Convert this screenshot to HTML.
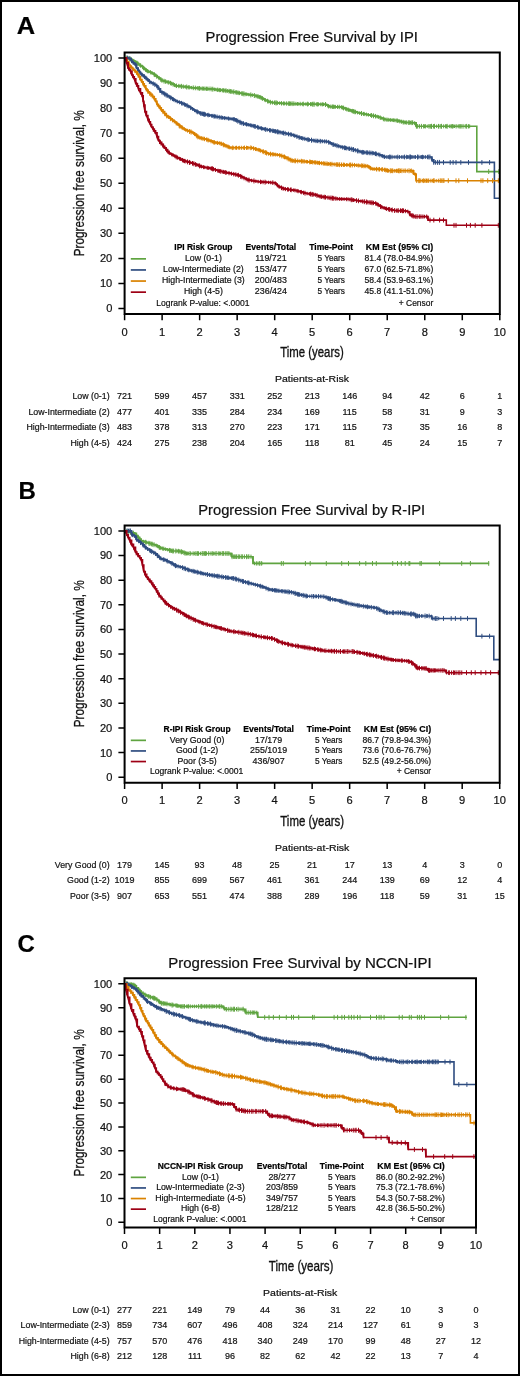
<!DOCTYPE html>
<html><head><meta charset="utf-8"><style>html,body{margin:0;padding:0;background:#fff;width:520px;height:1376px;overflow:hidden}</style></head>
<body>
<svg width="520" height="1376" viewBox="0 0 520 1376" style="display:block;will-change:transform">
<rect x="0" y="0" width="520" height="1376" fill="#fff"/>
<g font-family='"Liberation Sans", sans-serif'>
<text x="16.8" y="33.8" font-size="24" text-anchor="start" font-weight="bold" fill="#000" stroke="#000" stroke-width="0.2" textLength="18.4" lengthAdjust="spacingAndGlyphs">A</text>
<text x="205.5" y="42.1" font-size="13.8" text-anchor="start" font-weight="normal" fill="#111" stroke="#111" stroke-width="0.2" textLength="212.5" lengthAdjust="spacingAndGlyphs">Progression Free Survival by IPI</text>
<text transform="translate(84.1,256.3) rotate(-90)" x="0" y="0" font-size="15.4" fill="#111" stroke="#111" stroke-width="0.3" textLength="146.1" lengthAdjust="spacingAndGlyphs">Progression free survival, %</text>
<text x="112.3" y="312.4" font-size="11.1" text-anchor="end" font-weight="normal" fill="#111" stroke="#111" stroke-width="0.2">0</text>
<text x="112.3" y="287.3" font-size="11.1" text-anchor="end" font-weight="normal" fill="#111" stroke="#111" stroke-width="0.2">10</text>
<text x="112.3" y="262.3" font-size="11.1" text-anchor="end" font-weight="normal" fill="#111" stroke="#111" stroke-width="0.2">20</text>
<text x="112.3" y="237.2" font-size="11.1" text-anchor="end" font-weight="normal" fill="#111" stroke="#111" stroke-width="0.2">30</text>
<text x="112.3" y="212.2" font-size="11.1" text-anchor="end" font-weight="normal" fill="#111" stroke="#111" stroke-width="0.2">40</text>
<text x="112.3" y="187.1" font-size="11.1" text-anchor="end" font-weight="normal" fill="#111" stroke="#111" stroke-width="0.2">50</text>
<text x="112.3" y="162.0" font-size="11.1" text-anchor="end" font-weight="normal" fill="#111" stroke="#111" stroke-width="0.2">60</text>
<text x="112.3" y="137.0" font-size="11.1" text-anchor="end" font-weight="normal" fill="#111" stroke="#111" stroke-width="0.2">70</text>
<text x="112.3" y="111.9" font-size="11.1" text-anchor="end" font-weight="normal" fill="#111" stroke="#111" stroke-width="0.2">80</text>
<text x="112.3" y="86.9" font-size="11.1" text-anchor="end" font-weight="normal" fill="#111" stroke="#111" stroke-width="0.2">90</text>
<text x="112.3" y="61.8" font-size="11.1" text-anchor="end" font-weight="normal" fill="#111" stroke="#111" stroke-width="0.2">100</text>
<text x="124.6" y="335.6" font-size="11.1" text-anchor="middle" font-weight="normal" fill="#111" stroke="#111" stroke-width="0.2">0</text>
<text x="162.1" y="335.6" font-size="11.1" text-anchor="middle" font-weight="normal" fill="#111" stroke="#111" stroke-width="0.2">1</text>
<text x="199.6" y="335.6" font-size="11.1" text-anchor="middle" font-weight="normal" fill="#111" stroke="#111" stroke-width="0.2">2</text>
<text x="237.2" y="335.6" font-size="11.1" text-anchor="middle" font-weight="normal" fill="#111" stroke="#111" stroke-width="0.2">3</text>
<text x="274.7" y="335.6" font-size="11.1" text-anchor="middle" font-weight="normal" fill="#111" stroke="#111" stroke-width="0.2">4</text>
<text x="312.2" y="335.6" font-size="11.1" text-anchor="middle" font-weight="normal" fill="#111" stroke="#111" stroke-width="0.2">5</text>
<text x="349.7" y="335.6" font-size="11.1" text-anchor="middle" font-weight="normal" fill="#111" stroke="#111" stroke-width="0.2">6</text>
<text x="387.2" y="335.6" font-size="11.1" text-anchor="middle" font-weight="normal" fill="#111" stroke="#111" stroke-width="0.2">7</text>
<text x="424.8" y="335.6" font-size="11.1" text-anchor="middle" font-weight="normal" fill="#111" stroke="#111" stroke-width="0.2">8</text>
<text x="462.3" y="335.6" font-size="11.1" text-anchor="middle" font-weight="normal" fill="#111" stroke="#111" stroke-width="0.2">9</text>
<text x="499.8" y="335.6" font-size="11.1" text-anchor="middle" font-weight="normal" fill="#111" stroke="#111" stroke-width="0.2">10</text>
<path d="M118.40,308.50H124.60M118.40,283.44H124.60M118.40,258.38H124.60M118.40,233.32H124.60M118.40,208.26H124.60M118.40,183.20H124.60M118.40,158.14H124.60M118.40,133.08H124.60M118.40,108.02H124.60M118.40,82.96H124.60M118.40,57.90H124.60M124.60,314.00V320.30M162.12,314.00V320.30M199.64,314.00V320.30M237.16,314.00V320.30M274.68,314.00V320.30M312.20,314.00V320.30M349.72,314.00V320.30M387.24,314.00V320.30M424.76,314.00V320.30M462.28,314.00V320.30M499.80,314.00V320.30" stroke="#000" stroke-width="1.5" fill="none"/>
<text x="280.3" y="357.2" font-size="15.2" text-anchor="start" font-weight="normal" fill="#111" stroke="#111" stroke-width="0.35" textLength="63.4" lengthAdjust="spacingAndGlyphs">Time (years)</text>
<text x="275.0" y="382.3" font-size="9.5" text-anchor="start" font-weight="normal" fill="#111" stroke="#111" stroke-width="0.2" textLength="74.0" lengthAdjust="spacingAndGlyphs">Patients-at-Risk</text>
<path d="M124.80,57.80H126.43V58.03H128.07V58.27H129.70V58.50H130.85V59.25H132.00V60.00H133.15V60.60H134.30V61.20H135.45V61.95H136.60V62.70H137.75V63.65H138.90V64.60H140.45V65.55H142.00V66.50H143.15V67.65H144.30V68.80H145.85V70.00H147.40V71.20H148.95V71.75H150.50V72.30H151.65V72.90H152.80V73.50H154.30V74.65H155.80V75.80H157.35V76.95H158.90V78.10H160.45V79.35H162.00V80.60H164.20V81.20H165.65V81.60H167.10V82.00H168.55V82.40H170.00V82.80H171.45V83.53H172.90V84.25H174.35V84.97H175.80V85.70H177.34V85.88H178.88V86.06H180.42V86.24H181.96V86.42H183.50V86.60H185.04V86.80H186.58V87.00H188.12V87.20H189.66V87.40H191.20V87.60H192.80V87.75H194.40V87.90H196.00V88.05H197.60V88.20H199.20V88.35H200.80V88.50H202.40V88.57H204.00V88.63H205.60V88.70H207.20V88.77H208.80V88.83H210.40V88.90H212.00V89.10H213.60V89.30H215.20V89.50H216.80V89.70H218.40V89.90H220.00V90.10H221.53V90.23H223.07V90.37H224.60V90.50H226.20V90.75H227.80V91.00H229.40V91.25H231.00V91.50H232.60V91.75H234.20V92.00H235.80V92.32H237.40V92.63H239.00V92.95H240.60V93.27H242.20V93.58H243.80V93.90H245.42V94.13H247.03V94.37H248.65V94.60H250.27V94.83H251.88V95.07H253.50V95.30H255.18V95.78H256.85V96.25H258.52V96.72H260.20V97.20H261.80V98.17H263.40V99.13H265.00V100.10H266.45V100.67H267.90V101.25H269.35V101.83H270.80V102.40H272.24V102.53H273.68V102.65H275.11V102.78H276.55V102.90H277.99V103.03H279.43V103.15H280.86V103.28H282.30V103.40H283.78V103.45H285.25V103.49H286.73V103.54H288.21V103.58H289.68V103.63H291.16V103.68H292.64V103.72H294.12V103.77H295.59V103.82H297.07V103.86H298.55V103.91H300.02V103.95H301.50V104.00H302.99V104.03H304.49V104.05H305.98V104.08H307.48V104.10H308.97V104.12H310.46V104.15H311.96V104.17H313.45V104.20H314.94V104.23H316.44V104.25H317.93V104.28H319.42V104.30H320.92V104.33H322.41V104.35H323.91V104.38H325.40V104.40H326.67V105.13H327.93V105.87H329.20V106.60H330.65V106.65H332.10V106.70H333.55V106.75H335.00V106.80H336.45V106.85H337.90V106.90H339.35V106.95H340.80V107.00H342.34V107.58H343.88V108.16H345.42V108.74H346.96V109.32H348.50V109.90H350.10V110.38H351.70V110.87H353.30V111.35H354.90V111.83H356.50V112.32H358.10V112.80H359.70V113.12H361.30V113.43H362.90V113.75H364.50V114.07H366.10V114.38H367.70V114.70H369.30V115.02H370.90V115.33H372.50V115.65H374.10V115.97H375.70V116.28H377.30V116.60H378.84V117.18H380.38V117.76H381.92V118.34H383.46V118.92H385.00V119.50H386.44V119.62H387.88V119.75H389.31V119.88H390.75V120.00H392.19V120.12H393.62V120.25H395.06V120.38H396.50V120.50H398.04V120.88H399.58V121.26H401.12V121.64H402.66V122.02H404.20V122.40H405.69V122.46H407.17V122.51H408.66V122.57H410.14V122.63H411.63V122.69H413.11V122.74H414.60V122.80H416.20V126.30H476.80V171.60H499.20" fill="none" stroke="#5fa440" stroke-width="1.6" stroke-linejoin="miter"/>
<path d="M124.80,57.80L129.70,58.50M129.70,58.50L132.00,60.00M132.00,60.00L134.30,61.20M134.30,61.20L136.60,62.70M136.60,62.70L138.90,64.60M138.90,64.60L142.00,66.50M142.00,66.50L144.30,68.80M144.30,68.80L147.40,71.20M147.40,71.20L150.50,72.30M150.50,72.30L152.80,73.50M152.80,73.50L155.80,75.80M155.80,75.80L158.90,78.10M158.90,78.10L162.00,80.60M162.00,80.60L164.20,81.20M164.20,81.20L170.00,82.80M170.00,82.80L175.80,85.70M175.80,85.70L183.50,86.60M183.50,86.60L191.20,87.60M191.20,87.60L200.80,88.50M200.80,88.50L210.40,88.90M210.40,88.90L220.00,90.10M220.00,90.10L224.60,90.50M224.60,90.50L234.20,92.00M234.20,92.00L243.80,93.90M243.80,93.90L253.50,95.30M253.50,95.30L260.20,97.20M260.20,97.20L265.00,100.10M265.00,100.10L270.80,102.40M270.80,102.40L282.30,103.40M282.30,103.40L301.50,104.00M301.50,104.00L325.40,104.40M325.40,104.40L329.20,106.60M329.20,106.60L340.80,107.00M340.80,107.00L348.50,109.90M348.50,109.90L358.10,112.80M358.10,112.80L367.70,114.70M367.70,114.70L377.30,116.60M377.30,116.60L385.00,119.50M385.00,119.50L396.50,120.50M396.50,120.50L404.20,122.40M404.20,122.40L414.60,122.80M414.60,122.80L416.20,126.30" fill="none" stroke="#5fa440" stroke-width="1.6" stroke-linecap="round"/>
<path d="M488.70,169.20v4.80M494.40,169.20v4.80M498.80,169.20v4.80M126.19,55.61v4.78M128.03,56.37v3.79M129.42,56.40v4.12M131.08,57.06v4.69M131.80,58.16v3.41M133.76,58.87v4.09M135.60,60.37v3.36M136.91,60.67v4.57M137.85,61.26v4.95M139.93,63.52v3.41M140.53,63.46v4.27M142.67,65.17v4.00M143.59,66.06v4.07M144.20,66.83v3.73M145.50,67.63v4.19M146.45,68.59v3.75M147.38,69.12v4.13M148.42,69.86v3.40M150.39,70.11v4.29M152.03,71.26v3.67M154.26,72.21v4.80M155.02,73.24v3.92M156.79,74.26v4.55M158.92,76.09v4.07M160.88,77.45v4.49M161.95,78.39v4.35M163.99,78.75v4.78M165.40,79.36v4.35M166.02,79.82v3.77M167.92,80.20v4.06M168.77,80.32v4.28M170.51,80.81v4.49M171.70,81.60v4.10M173.11,82.02v4.67M174.55,83.06v4.02M175.93,84.01v3.41M176.56,83.52v4.54M178.78,83.87v4.36M180.00,84.37v3.65M181.40,83.85v5.01M183.26,84.44v4.27M185.26,84.95v3.75M186.68,84.53v4.96M188.21,85.15v4.13M189.23,85.20v4.28M191.39,85.93v3.37M193.27,85.42v4.74M195.32,85.68v4.60M197.24,86.05v4.23M198.74,86.27v4.08M199.40,85.96v4.82M200.91,86.66v3.70M202.32,86.48v4.17M203.48,86.64v3.94M204.95,86.47v4.41M206.54,86.67v4.13M207.14,86.89v3.75M208.00,86.63v4.34M210.01,86.53v4.70M211.91,86.72v4.73M212.89,86.82v4.77M214.59,87.67v3.50M215.17,87.80v3.38M217.00,87.84v3.78M217.75,87.61v4.41M218.89,88.22v3.48M219.71,87.94v4.25M220.56,88.24v3.82M222.31,88.24v4.12M223.41,88.32v4.16M224.01,88.44v4.01M225.28,88.77v3.68M226.02,88.29v4.87M227.44,89.09v3.71M229.02,88.82v4.73M229.61,89.59v3.39M230.42,89.13v4.57M231.25,89.27v4.54M232.95,89.67v4.28M233.88,89.45v5.00M235.78,90.20v4.23M236.71,90.27v4.45M237.94,90.58v4.33M239.04,90.75v4.42M239.69,91.16v3.86M241.88,91.10v4.83M242.95,91.33v4.80M244.04,91.47v4.94M245.85,92.17v4.06M246.83,92.65v3.37M248.87,92.92v3.42M250.80,92.42v4.98M252.32,93.31v3.65M254.34,93.04v5.00M256.08,93.92v4.21M257.28,94.40v3.94M258.18,94.38v4.49M259.47,95.15v3.69M260.20,94.96v4.48M261.26,95.74v4.20M262.37,96.10v4.82M264.44,98.07v3.39M265.34,98.28v3.91M267.56,98.78v4.67M268.69,99.70v3.72M270.38,99.85v4.77M272.50,100.58v3.94M274.55,100.47v4.51M275.92,100.34v5.02M276.88,100.64v4.58M277.58,101.17v3.65M279.67,101.31v3.72M281.50,101.15v4.37M283.48,101.45v3.98M284.61,101.55v3.85M286.63,101.35v4.37M288.79,101.18v4.85M289.58,101.48v4.29M290.31,101.94v3.43M290.99,101.26v4.82M292.88,101.35v4.75M294.01,101.57v4.39M295.88,101.83v4.00M297.40,102.00v3.74M298.10,101.99v3.81M300.16,101.80v4.31M302.27,101.95v4.13M303.30,101.69v4.68M305.25,102.37v3.38M306.93,102.33v3.51M307.69,101.68v4.85M308.31,102.23v3.76M310.53,102.12v4.07M311.29,102.34v3.64M312.25,101.88v4.61M312.99,101.75v4.89M314.18,101.72v4.99M316.27,102.32v3.85M317.26,102.18v4.16M317.98,102.05v4.46M318.61,102.60v3.38M320.82,102.40v3.86M322.38,102.29v4.12M323.47,102.63v3.47M325.56,102.00v4.99M327.75,103.99v3.55M328.68,104.10v4.40M330.88,104.52v4.27M332.60,104.48v4.47M333.59,104.62v4.27M334.67,104.90v3.77M335.37,104.90v3.83M337.58,104.83v4.11M339.23,104.73v4.44M341.37,105.21v4.02M342.45,105.67v3.91M343.54,105.64v4.78M345.60,106.87v3.87M346.72,107.09v4.27M348.26,107.63v4.36M349.23,108.42v3.39M350.20,108.67v3.48M351.68,109.12v3.48M352.37,108.86v4.43M353.42,109.04v4.69M354.81,109.40v4.81M355.63,109.95v4.20M357.52,110.88v3.49M359.68,111.29v3.65M361.54,110.97v5.01M363.48,111.92v3.90M364.22,111.90v4.22M366.33,112.50v3.85M368.39,113.04v3.60M370.48,113.54v3.41M371.57,113.03v4.88M373.48,113.40v4.88M375.45,113.93v4.61M377.17,114.74v3.66M378.46,115.22v3.63M380.22,115.46v4.48M381.20,116.33v3.47M383.38,116.53v4.72M384.86,117.31v4.27M386.85,117.60v4.12M388.08,117.80v3.93M389.07,118.15v3.40M390.72,117.97v4.06M392.23,118.40v3.46M393.39,118.43v3.59M394.16,118.40v3.80M396.11,118.45v4.03M397.35,118.51v4.39M398.30,119.26v3.37M399.75,119.20v4.20M401.40,119.66v4.10M403.11,119.84v4.59M404.07,120.27v4.19M405.44,120.58v3.74M406.69,120.35v4.30M408.77,120.13v4.90M409.80,120.39v4.45M410.44,120.90v3.48M411.86,120.28v4.83M412.68,120.40v4.65M414.73,121.14v3.88M416.45,123.91v4.79M417.64,124.03v4.54M419.43,124.12v4.36M421.43,123.87v4.87M423.60,124.14v4.32M424.46,124.41v3.78M425.39,124.14v4.32M427.22,124.58v3.45M428.92,124.02v4.56M430.07,124.19v4.23M430.91,124.01v4.59M431.53,123.80v5.01M433.45,124.09v4.42M434.46,123.85v4.89M436.63,124.50v3.59M438.50,123.91v4.77M440.16,124.03v4.54M441.47,123.84v4.91M443.66,124.30v4.00M445.57,124.26v4.09M446.41,124.35v3.91M447.18,123.86v4.89M449.35,124.52v3.56M450.92,124.28v4.05M451.68,124.37v3.86M452.66,123.99v4.62M453.22,124.46v3.68M454.52,124.60v3.40M456.14,124.11v4.38M458.10,124.45v3.71M459.14,124.16v4.27M460.16,124.13v4.34M461.14,124.05v4.51M463.03,123.94v4.72M465.22,124.16v4.28M466.61,123.90v4.80M468.46,124.14v4.32M469.66,124.38v3.84" fill="none" stroke="#5fa440" stroke-width="1"/>
<path d="M124.80,57.80H126.50V58.00H128.20V58.20H129.35V58.50H130.50V58.80H131.20V60.40H132.00V61.90H133.15V62.70H134.30V63.50H135.80V65.00H136.60V68.10H138.20V70.40H139.35V71.95H140.50V73.50H142.00V75.00H143.15V75.75H144.30V76.50H145.45V77.65H146.60V78.80H147.75V80.00H148.90V81.20H150.05V81.95H151.20V82.70H152.75V83.45H154.30V84.20H155.45V85.00H156.60V85.80H157.75V87.30H158.90V88.80H160.50V91.90H162.00V92.40H163.53V93.35H165.05V94.30H166.57V95.25H168.10V96.20H169.64V97.16H171.18V98.12H172.72V99.08H174.26V100.04H175.80V101.00H177.34V101.58H178.88V102.16H180.42V102.74H181.96V103.32H183.50V103.90H184.93V104.62H186.35V105.35H187.77V106.08H189.20V106.80H190.65V107.78H192.10V108.75H193.55V109.72H195.00V110.70H196.45V111.40H197.90V112.10H199.35V112.80H200.80V113.50H202.40V113.83H204.00V114.17H205.60V114.50H207.20V114.83H208.80V115.17H210.40V115.50H212.00V115.82H213.60V116.13H215.20V116.45H216.80V116.77H218.40V117.08H220.00V117.40H221.58V117.61H223.16V117.82H224.73V118.03H226.31V118.24H227.89V118.46H229.47V118.67H231.04V118.88H232.62V119.09H234.20V119.30H235.74V120.08H237.28V120.86H238.82V121.64H240.36V122.42H241.90V123.20H243.35V123.55H244.80V123.90H246.25V124.25H247.70V124.60H249.15V124.95H250.60V125.30H252.05V125.65H253.50V126.00H255.10V126.48H256.70V126.97H258.30V127.45H259.90V127.93H261.50V128.42H263.10V128.90H264.70V129.22H266.30V129.53H267.90V129.85H269.50V130.17H271.10V130.48H272.70V130.80H274.30V131.13H275.90V131.47H277.50V131.80H279.10V132.13H280.70V132.47H282.30V132.80H283.90V133.12H285.50V133.43H287.10V133.75H288.70V134.07H290.30V134.38H291.90V134.70H293.44V135.28H294.98V135.86H296.52V136.44H298.06V137.02H299.60V137.60H301.14V137.98H302.68V138.36H304.22V138.74H305.76V139.12H307.30V139.50H308.84V139.76H310.38V140.02H311.92V140.28H313.46V140.54H315.00V140.80H316.54V140.90H318.07V141.00H319.61V141.10H321.15V141.20H322.69V141.30H324.23V141.40H325.76V141.50H327.30V141.60H328.75V142.32H330.20V143.05H331.65V143.78H333.10V144.50H334.70V144.98H336.30V145.47H337.90V145.95H339.50V146.43H341.10V146.92H342.70V147.40H344.30V147.72H345.90V148.03H347.50V148.35H349.10V148.67H350.70V148.98H352.30V149.30H353.90V149.78H355.50V150.27H357.10V150.75H358.70V151.23H360.30V151.72H361.90V152.20H363.35V152.32H364.80V152.45H366.25V152.57H367.70V152.70H369.15V152.82H370.60V152.95H372.05V153.07H373.50V153.20H374.93V153.57H376.35V153.95H377.77V154.32H379.20V154.70H380.65V155.27H382.10V155.85H383.55V156.43H385.00V157.00H431.00H432.00V159.90H433.80V162.40H494.40V198.30H499.20" fill="none" stroke="#2f4d80" stroke-width="1.6" stroke-linejoin="miter"/>
<path d="M124.80,57.80L128.20,58.20M128.20,58.20L130.50,58.80M130.50,58.80L131.20,60.40M131.20,60.40L132.00,61.90M132.00,61.90L134.30,63.50M134.30,63.50L135.80,65.00M135.80,65.00L136.60,68.10M136.60,68.10L138.20,70.40M138.20,70.40L140.50,73.50M140.50,73.50L142.00,75.00M142.00,75.00L144.30,76.50M144.30,76.50L146.60,78.80M146.60,78.80L148.90,81.20M148.90,81.20L151.20,82.70M151.20,82.70L154.30,84.20M154.30,84.20L156.60,85.80M156.60,85.80L158.90,88.80M158.90,88.80L160.50,91.90M160.50,91.90L162.00,92.40M162.00,92.40L168.10,96.20M168.10,96.20L175.80,101.00M175.80,101.00L183.50,103.90M183.50,103.90L189.20,106.80M189.20,106.80L195.00,110.70M195.00,110.70L200.80,113.50M200.80,113.50L210.40,115.50M210.40,115.50L220.00,117.40M220.00,117.40L234.20,119.30M234.20,119.30L241.90,123.20M241.90,123.20L253.50,126.00M253.50,126.00L263.10,128.90M263.10,128.90L272.70,130.80M272.70,130.80L282.30,132.80M282.30,132.80L291.90,134.70M291.90,134.70L299.60,137.60M299.60,137.60L307.30,139.50M307.30,139.50L315.00,140.80M315.00,140.80L327.30,141.60M327.30,141.60L333.10,144.50M333.10,144.50L342.70,147.40M342.70,147.40L352.30,149.30M352.30,149.30L361.90,152.20M361.90,152.20L373.50,153.20M373.50,153.20L379.20,154.70M379.20,154.70L385.00,157.00M431.00,157.00L432.00,159.90M432.00,159.90L433.80,162.40" fill="none" stroke="#2f4d80" stroke-width="1.6" stroke-linecap="round"/>
<path d="M443.50,160.00v4.80M450.20,160.00v4.80M453.10,160.00v4.80M456.00,160.00v4.80M460.80,160.00v4.80M468.50,160.00v4.80M481.90,160.00v4.80M489.60,160.00v4.80M127.34,55.62v4.95M127.99,56.42v3.50M129.96,56.36v4.60M131.64,59.29v3.88M133.22,60.56v4.38M134.76,62.14v3.63M136.04,63.92v4.02M137.81,67.33v5.03M139.97,70.65v4.27M141.28,72.37v3.81M141.90,73.19v3.41M143.24,73.86v3.90M144.44,74.21v4.86M145.88,75.93v4.30M146.84,77.35v3.40M147.94,78.41v3.59M149.36,78.98v5.04M151.05,80.77v3.67M153.11,81.28v4.70M154.91,82.18v4.88M156.75,83.65v4.69M157.90,85.00v5.01M160.08,89.27v3.63M161.91,90.09v4.56M163.24,91.05v4.25M164.63,91.58v4.91M166.03,92.53v4.76M167.18,93.21v4.84M169.25,94.85v4.13M170.77,95.41v4.91M172.54,96.88v4.18M173.48,97.60v3.91M175.21,98.81v3.64M177.30,99.66v3.81M179.39,100.41v3.88M181.56,100.89v4.55M182.96,101.58v4.23M184.62,102.29v4.35M185.70,103.17v3.71M187.12,103.28v4.93M188.73,104.82v3.49M190.67,105.50v4.58M192.75,107.35v3.68M194.56,108.68v3.46M196.22,109.38v3.82M197.16,109.33v4.83M197.90,109.98v4.24M199.89,111.18v3.77M200.81,111.08v4.84M202.08,111.48v4.56M202.69,111.91v3.97M203.54,111.83v4.49M204.24,111.73v4.96M204.84,112.05v4.59M205.44,112.57v3.79M207.36,113.06v3.62M208.23,112.79v4.52M209.44,113.58v3.43M211.66,113.94v3.61M212.28,113.90v3.94M213.88,113.88v4.61M214.63,114.37v3.93M215.24,114.40v4.11M217.09,114.52v4.60M219.16,114.92v4.63M221.17,115.28v4.54M222.52,115.87v3.74M224.19,116.02v3.89M224.93,116.00v4.11M226.96,116.54v3.57M228.50,116.53v4.02M229.92,116.93v3.60M232.10,117.12v3.80M233.67,117.20v4.07M234.26,117.18v4.30M235.06,118.01v3.46M235.68,118.23v3.63M236.40,118.20v4.43M237.81,118.62v5.01M239.94,119.69v5.03M240.89,120.64v4.11M241.87,121.01v4.35M243.48,121.23v4.70M245.23,122.11v3.79M246.50,122.19v4.24M247.07,122.74v3.42M248.32,122.98v3.55M250.09,123.30v3.76M250.82,123.52v3.67M251.77,123.72v3.73M253.21,123.86v4.14M254.29,124.02v4.44M255.20,124.07v4.88M257.38,124.88v4.58M258.67,125.45v4.22M260.21,126.30v3.45M261.47,126.29v4.24M262.33,126.91v3.52M264.24,127.14v3.98M265.67,126.96v4.91M267.26,127.80v3.85M269.47,128.17v3.99M270.06,128.02v4.51M270.79,128.49v3.87M272.77,128.57v4.49M273.35,128.88v4.12M274.60,129.11v4.18M275.51,129.21v4.35M276.20,129.61v3.84M277.38,129.31v4.93M278.07,129.60v4.63M278.95,129.94v4.32M280.17,130.29v4.14M282.00,130.73v4.02M282.76,131.11v3.56M283.46,130.64v4.79M285.10,130.87v4.97M286.82,131.99v3.40M288.49,131.69v4.67M290.26,132.28v4.20M291.42,132.54v4.13M293.32,133.33v3.81M294.77,133.70v4.16M296.93,134.24v4.71M299.06,135.01v4.76M300.12,135.85v3.75M301.50,136.17v3.80M302.78,136.13v4.50M304.88,136.73v4.34M306.81,137.62v3.52M307.97,137.10v5.04M308.78,137.72v4.06M309.45,138.11v3.50M311.51,137.70v5.02M313.16,138.70v3.58M314.22,138.79v3.75M315.91,138.61v4.50M317.21,138.82v4.24M317.95,138.86v4.27M320.11,138.82v4.63M320.83,139.07v4.23M322.59,139.40v3.79M324.66,139.36v4.13M326.40,139.52v4.04M328.63,139.93v4.68M330.15,141.23v3.60M331.45,141.97v3.41M333.01,142.04v4.84M333.88,142.63v4.22M335.25,143.13v4.04M337.00,143.21v4.93M338.75,144.13v4.15M340.92,144.91v3.92M342.74,145.17v4.47M344.57,145.38v4.79M345.51,145.75v4.40M346.75,145.96v4.48M348.95,146.42v4.43M349.53,146.68v4.14M351.29,146.68v4.84M352.94,147.13v4.73M353.53,147.20v4.94M355.31,148.02v4.38M357.39,148.42v4.85M358.12,148.69v4.73M359.97,149.77v3.70M361.78,149.99v4.34M362.66,149.91v4.71M363.45,150.14v4.39M364.74,150.55v3.79M366.26,150.50v4.14M367.16,150.16v4.98M367.84,151.03v3.37M369.22,150.45v4.77M370.88,150.66v4.63M372.26,150.85v4.49M373.38,151.29v3.81M374.79,151.84v3.41M375.48,151.41v4.63M376.33,151.64v4.62M378.21,152.42v4.04M379.90,152.64v4.68M381.92,153.98v3.59M382.75,154.11v4.00M384.09,154.71v3.86M384.67,154.72v4.30M386.85,155.01v3.98M388.31,155.00v4.00M389.62,154.59v4.82M390.70,154.77v4.45M392.07,154.87v4.26M394.17,155.26v3.49M396.11,155.06v3.87M397.76,154.65v4.70M399.41,154.99v4.02M401.39,155.24v3.52M403.01,154.99v4.02M404.46,154.61v4.79M406.36,154.79v4.42M407.44,155.12v3.75M408.77,155.13v3.75M409.80,154.52v4.97M410.54,154.63v4.74M411.74,155.01v3.97M412.84,155.25v3.49M414.16,155.18v3.64M415.47,155.07v3.85M417.53,154.55v4.91M418.83,154.78v4.43M420.95,155.05v3.91M421.68,155.12v3.76M422.56,154.75v4.50M423.75,155.02v3.96M425.64,155.12v3.75M427.56,154.79v4.42M428.79,154.63v4.74M429.93,154.58v4.84M432.04,157.86v4.20M433.76,159.87v4.95M435.57,160.09v4.62M437.59,159.93v4.93M439.42,159.90v5.00" fill="none" stroke="#2f4d80" stroke-width="1"/>
<path d="M124.80,57.80H126.10V59.85H127.40V61.90H128.90V65.00H130.05V66.15H131.20V67.30H132.35V68.45H133.50V69.60H134.65V70.75H135.80V71.90H137.40V74.20H138.90V76.50H140.50V79.60H142.00V81.90H143.15V83.85H144.30V85.80H145.80V88.80H147.00V90.35H148.20V91.90H149.35V93.05H150.50V94.20H151.65V95.35H152.80V96.50H154.30V98.80H155.80V101.20H157.00V104.20H158.43V106.03H159.87V107.87H161.30V109.70H162.93V111.63H164.57V113.57H166.20V115.50H167.72V116.64H169.24V117.78H170.76V118.92H172.28V120.06H173.80V121.20H175.25V122.40H176.70V123.60H178.15V124.80H179.60V126.00H181.05V126.97H182.50V127.95H183.95V128.93H185.40V129.90H186.94V130.48H188.48V131.06H190.02V131.64H191.56V132.22H193.10V132.80H194.53V134.00H195.95V135.20H197.38V136.40H198.80V137.60H200.34V137.98H201.88V138.36H203.42V138.74H204.96V139.12H206.50V139.50H208.04V140.08H209.58V140.66H211.12V141.24H212.66V141.82H214.20V142.40H215.65V142.62H217.10V142.85H218.55V143.08H220.00V143.30H221.53V143.97H223.07V144.63H224.60V145.30H226.05V145.93H227.50V146.55H228.95V147.18H230.40V147.80H251.50H253.04V148.26H254.58V148.72H256.12V149.18H257.66V149.64H259.20V150.10H260.80V150.73H262.40V151.37H264.00V152.00H265.60V152.63H267.20V153.27H268.80V153.90H270.42V154.07H272.03V154.23H273.65V154.40H275.27V154.57H276.88V154.73H278.50V154.90H279.93V155.38H281.35V155.85H282.77V156.33H284.20V156.80H285.74V157.58H287.28V158.36H288.82V159.14H290.36V159.92H291.90V160.70H293.50V160.78H295.10V160.87H296.70V160.95H298.30V161.03H299.90V161.12H301.50V161.20H303.00V161.33H304.50V161.47H306.00V161.60H307.50V161.73H309.00V161.87H310.50V162.00H312.00V162.13H313.50V162.27H315.00V162.40H316.49V162.59H317.97V162.77H319.46V162.96H320.94V163.14H322.43V163.33H323.91V163.51H325.40V163.70H326.89V163.81H328.38V163.92H329.87V164.03H331.36V164.14H332.84V164.26H334.33V164.37H335.82V164.48H337.31V164.59H338.80V164.70H340.34V164.74H341.88V164.78H343.42V164.82H344.96V164.86H346.50V164.90H348.04V164.94H349.58V164.98H351.12V165.02H352.66V165.06H354.20V165.10H355.70V165.22H357.20V165.34H358.70V165.47H360.20V165.59H361.70V165.71H363.20V165.83H364.70V165.96H366.20V166.08H367.70V166.20H368.97V167.10H370.23V168.00H371.50V168.90H372.95V168.97H374.40V169.05H375.85V169.12H377.30V169.20H378.75V169.28H380.20V169.35H381.65V169.43H383.10V169.50H384.53V169.82H385.95V170.15H387.38V170.48H388.80V170.80H412.70H413.70V173.90H415.60V174.30H416.20V180.70H499.20" fill="none" stroke="#da8200" stroke-width="1.6" stroke-linejoin="miter"/>
<path d="M124.80,57.80L127.40,61.90M127.40,61.90L128.90,65.00M128.90,65.00L131.20,67.30M131.20,67.30L133.50,69.60M133.50,69.60L135.80,71.90M135.80,71.90L137.40,74.20M137.40,74.20L138.90,76.50M138.90,76.50L140.50,79.60M140.50,79.60L142.00,81.90M142.00,81.90L144.30,85.80M144.30,85.80L145.80,88.80M145.80,88.80L148.20,91.90M148.20,91.90L150.50,94.20M150.50,94.20L152.80,96.50M152.80,96.50L154.30,98.80M154.30,98.80L155.80,101.20M155.80,101.20L157.00,104.20M157.00,104.20L161.30,109.70M161.30,109.70L166.20,115.50M166.20,115.50L173.80,121.20M173.80,121.20L179.60,126.00M179.60,126.00L185.40,129.90M185.40,129.90L193.10,132.80M193.10,132.80L198.80,137.60M198.80,137.60L206.50,139.50M206.50,139.50L214.20,142.40M214.20,142.40L220.00,143.30M220.00,143.30L224.60,145.30M224.60,145.30L230.40,147.80M251.50,147.80L259.20,150.10M259.20,150.10L268.80,153.90M268.80,153.90L278.50,154.90M278.50,154.90L284.20,156.80M284.20,156.80L291.90,160.70M291.90,160.70L301.50,161.20M301.50,161.20L315.00,162.40M315.00,162.40L325.40,163.70M325.40,163.70L338.80,164.70M338.80,164.70L354.20,165.10M354.20,165.10L367.70,166.20M367.70,166.20L371.50,168.90M371.50,168.90L383.10,169.50M383.10,169.50L388.80,170.80M412.70,170.80L413.70,173.90M413.70,173.90L415.60,174.30M415.60,174.30L416.20,180.70" fill="none" stroke="#da8200" stroke-width="1.6" stroke-linecap="round"/>
<path d="M448.30,178.30v4.80M456.00,178.30v4.80M458.80,178.30v4.80M467.50,178.30v4.80M481.00,178.30v4.80M482.90,178.30v4.80M487.70,178.30v4.80M492.50,178.30v4.80M498.30,178.30v4.80M126.33,58.08v4.27M127.51,59.95v4.37M129.13,63.49v3.47M129.71,63.42v4.77M130.70,64.93v3.75M132.94,66.96v4.15M134.90,68.92v4.16M136.54,71.15v3.61M138.16,72.96v4.82M139.60,75.56v4.61M141.29,79.08v3.47M143.12,81.63v4.35M144.19,83.91v3.41M146.20,87.24v4.15M147.97,89.19v4.84M149.73,90.98v4.91M150.95,92.30v4.71M152.26,93.49v4.93M154.30,97.03v3.52M155.09,98.19v3.72M157.27,102.50v4.09M158.88,104.67v3.87M160.29,106.41v4.01M161.44,107.70v4.34M162.98,109.25v4.88M164.69,111.25v4.92M166.69,113.35v5.02M168.38,115.31v3.63M170.38,116.15v4.98M172.46,118.04v4.32M174.22,119.69v3.71M176.18,121.01v4.32M177.22,122.29v3.47M179.21,123.17v5.02M179.92,123.86v4.71M181.17,125.25v3.61M182.22,125.44v4.65M184.25,127.41v3.43M185.84,128.35v3.44M187.61,128.77v3.92M189.65,129.00v5.01M191.06,129.51v5.04M192.14,130.69v3.49M193.71,131.60v3.41M194.60,132.04v4.05M196.18,133.59v3.62M196.81,133.52v4.82M197.90,134.36v4.97M199.97,135.89v3.99M201.30,136.10v4.23M202.94,136.44v4.36M204.44,136.79v4.40M206.58,137.43v4.21M207.87,137.73v4.57M208.83,138.44v3.87M211.03,139.09v4.24M212.51,140.07v3.38M213.77,140.07v4.33M214.36,140.23v4.39M215.98,140.95v3.46M217.60,140.86v4.14M219.30,141.22v3.95M221.05,141.46v4.60M221.64,142.28v3.46M223.34,142.26v4.98M224.32,143.12v4.13M225.88,143.90v3.90M227.05,144.41v3.89M228.23,144.68v4.36M229.29,145.33v3.99M231.15,146.10v3.41M232.67,145.50v4.60M233.75,145.93v3.73M235.66,145.92v3.76M236.53,145.75v4.09M238.27,146.03v3.53M239.37,145.84v3.92M241.33,145.75v4.10M243.32,145.98v3.64M244.45,145.57v4.45M246.50,145.74v4.12M247.44,146.02v3.56M248.88,145.96v3.68M250.80,145.42v4.77M251.67,145.94v3.83M253.58,146.20v4.44M255.50,147.02v3.94M256.28,147.30v3.85M258.17,147.88v3.82M259.31,148.11v4.06M260.58,148.62v4.05M262.68,149.67v3.62M263.25,149.23v4.94M265.29,150.00v5.02M266.58,150.54v4.96M268.70,151.99v3.73M270.51,151.69v4.77M272.18,152.13v4.23M273.23,152.39v3.93M274.17,152.72v3.47M275.72,152.69v3.84M277.64,153.09v3.44M279.72,153.04v4.53M281.83,153.58v4.87M283.90,154.54v4.33M284.49,154.64v4.61M285.33,155.44v3.86M287.01,156.10v4.24M288.26,156.39v4.94M289.85,157.70v3.93M290.84,157.76v4.81M292.20,158.38v4.67M293.35,158.93v3.69M294.81,158.49v4.73M295.66,158.55v4.69M297.76,158.65v4.71M299.71,159.42v3.37M301.32,158.79v4.81M301.97,159.33v3.82M302.98,159.21v4.25M304.25,159.37v4.15M306.11,159.93v3.36M306.77,159.88v3.57M307.53,160.00v3.47M309.73,159.53v4.80M310.44,159.89v4.20M311.53,160.15v3.89M312.68,159.97v4.45M314.22,160.35v3.97M315.10,160.46v3.91M315.87,160.36v4.29M317.64,160.73v4.00M318.33,160.99v3.66M319.52,160.78v4.38M321.39,161.20v4.00M323.30,161.23v4.41M324.58,161.60v3.99M325.98,161.47v4.54M327.24,161.57v4.53M328.58,162.05v3.77M330.04,161.78v4.53M330.72,162.06v4.07M331.99,161.77v4.84M334.13,162.36v3.99M336.19,162.16v4.69M337.19,162.51v4.14M337.96,162.27v4.73M339.63,162.30v4.85M341.53,162.53v4.48M343.32,162.66v4.31M344.05,162.66v4.35M344.62,163.05v3.60M346.48,163.18v3.43M347.19,163.15v3.53M349.23,163.14v3.66M349.83,162.60v4.77M350.60,162.62v4.78M352.29,162.67v4.76M354.45,162.95v4.33M356.35,163.56v3.42M358.20,163.32v4.22M359.96,163.80v3.54M361.78,163.25v4.93M362.44,163.82v3.90M363.95,163.52v4.75M364.92,164.14v3.66M365.90,163.86v4.39M367.72,164.21v4.02M368.90,165.04v4.03M370.05,165.84v4.06M370.75,166.27v4.20M372.94,166.95v4.05M374.76,167.25v3.63M376.48,166.84v4.63M378.17,167.13v4.23M379.54,167.10v4.44M381.61,167.62v3.61M382.33,167.15v4.62M384.43,167.69v4.23M385.74,167.82v4.57M386.61,168.40v3.81M387.50,168.33v4.34M388.59,168.88v3.75M390.31,168.32v4.96M391.37,168.53v4.54M392.63,168.40v4.79M394.17,168.90v3.81M395.09,169.10v3.40M396.46,168.80v4.00M397.31,168.82v3.97M398.41,168.47v4.66M399.21,168.29v5.03M400.58,168.62v4.37M401.92,168.42v4.76M403.86,168.65v4.30M405.23,168.51v4.57M407.23,168.78v4.03M409.02,168.31v4.97M410.37,168.93v3.75M411.32,168.52v4.57M413.02,169.30v4.97M415.01,172.29v3.77M415.89,175.50v3.79M416.76,178.43v4.54M418.77,178.26v4.87M419.76,178.29v4.81M420.84,178.66v4.07M422.63,178.95v3.50M423.34,178.32v4.76M424.39,178.72v3.96M425.93,178.45v4.49M426.50,178.74v3.92M427.79,178.61v4.18M428.71,178.53v4.34M430.87,178.69v4.02M432.34,178.92v3.56M433.37,178.46v4.48M434.12,178.27v4.85M436.20,178.94v3.52M438.34,178.71v3.99M440.20,178.38v4.63M441.26,178.45v4.50M442.92,178.34v4.71M443.92,178.39v4.63" fill="none" stroke="#da8200" stroke-width="1"/>
<path d="M124.80,57.80H126.60V62.70H128.20V68.10H129.35V69.65H130.50V71.20H132.00V75.00H133.15V76.90H134.30V78.80H135.80V83.50H137.40V85.80H138.50V88.80H140.50V92.70H142.40V95.80H143.20V101.20H143.90V105.00H145.00V111.60H146.45V115.45H147.90V119.30H149.17V121.87H150.43V124.43H151.70V127.00H153.00V128.93H154.30V130.87H155.60V132.80H157.05V136.65H158.50V140.50H160.10V142.40H161.70V144.30H163.30V146.20H164.73V147.90H166.15V149.60H167.57V151.30H169.00V153.00H170.36V153.76H171.72V154.52H173.08V155.28H174.44V156.04H175.80V156.80H177.34V157.58H178.88V158.36H180.42V159.14H181.96V159.92H183.50V160.70H185.10V161.17H186.70V161.63H188.30V162.10H189.90V162.57H191.50V163.03H193.10V163.50H194.70V164.08H196.30V164.67H197.90V165.25H199.50V165.83H201.10V166.42H202.70V167.00H204.30V167.28H205.90V167.57H207.50V167.85H209.10V168.13H210.70V168.42H212.30V168.70H213.73V169.22H215.15V169.75H216.57V170.28H218.00V170.80H219.65V171.15H221.30V171.50H222.95V171.85H224.60V172.20H226.10V172.52H227.60V172.84H229.10V173.17H230.60V173.49H232.10V173.81H233.60V174.13H235.10V174.46H236.60V174.78H238.10V175.10H239.70V175.90H241.30V176.70H242.90V177.50H244.50V178.30H246.10V179.10H247.70V179.90H249.14V180.14H250.57V180.38H252.01V180.61H253.45V180.85H254.89V181.09H256.32V181.33H257.76V181.56H259.20V181.80H260.74V181.90H262.28V182.00H263.82V182.10H265.36V182.20H266.90V182.30H268.44V182.40H269.98V182.50H271.52V182.60H273.06V182.70H274.60V182.80H275.90V184.07H277.20V185.33H278.50V186.60H279.93V187.18H281.35V187.75H282.77V188.32H284.20V188.90H285.65V189.10H287.10V189.30H288.55V189.50H290.00V189.70H291.45V189.90H292.90V190.10H294.35V190.30H295.80V190.50H297.40V190.97H299.00V191.43H300.60V191.90H302.20V192.37H303.80V192.83H305.40V193.30H307.00V193.53H308.60V193.77H310.20V194.00H311.80V194.23H313.40V194.47H315.00V194.70H316.53V195.27H318.07V195.83H319.60V196.40H321.20V196.63H322.80V196.87H324.40V197.10H326.00V197.33H327.60V197.57H329.20V197.80H330.80V197.98H332.40V198.17H334.00V198.35H335.60V198.53H337.20V198.72H338.80V198.90H340.42V198.97H342.03V199.03H343.65V199.10H345.27V199.17H346.88V199.23H348.50V199.30H350.10V199.55H351.70V199.80H353.30V200.05H354.90V200.30H356.50V200.55H358.10V200.80H359.70V201.03H361.30V201.27H362.90V201.50H364.50V201.73H366.10V201.97H367.70V202.20H369.24V202.40H370.78V202.60H372.32V202.80H373.86V203.00H375.40V203.20H376.85V204.15H378.30V205.10H379.75V206.05H381.20V207.00H382.62V207.47H384.05V207.95H385.47V208.43H386.90V208.90H388.44V209.22H389.98V209.54H391.52V209.86H393.06V210.18H394.60V210.50H396.20V210.55H397.80V210.60H399.40V210.65H401.00V210.70H402.60V210.75H404.20V210.80H405.73V211.13H407.27V211.47H408.80V211.80H409.80V214.70H411.40V215.33H413.00V215.97H414.60V216.60H427.10H428.10V220.10H446.30V225.30H499.20" fill="none" stroke="#9e0015" stroke-width="1.6" stroke-linejoin="miter"/>
<path d="M124.80,57.80L126.60,62.70M126.60,62.70L128.20,68.10M128.20,68.10L130.50,71.20M130.50,71.20L132.00,75.00M132.00,75.00L134.30,78.80M134.30,78.80L135.80,83.50M135.80,83.50L137.40,85.80M137.40,85.80L138.50,88.80M138.50,88.80L140.50,92.70M140.50,92.70L142.40,95.80M142.40,95.80L143.20,101.20M143.20,101.20L143.90,105.00M143.90,105.00L145.00,111.60M145.00,111.60L147.90,119.30M147.90,119.30L151.70,127.00M151.70,127.00L155.60,132.80M155.60,132.80L158.50,140.50M158.50,140.50L163.30,146.20M163.30,146.20L169.00,153.00M169.00,153.00L175.80,156.80M175.80,156.80L183.50,160.70M183.50,160.70L193.10,163.50M193.10,163.50L202.70,167.00M202.70,167.00L212.30,168.70M212.30,168.70L218.00,170.80M218.00,170.80L224.60,172.20M224.60,172.20L238.10,175.10M238.10,175.10L247.70,179.90M247.70,179.90L259.20,181.80M259.20,181.80L274.60,182.80M274.60,182.80L278.50,186.60M278.50,186.60L284.20,188.90M284.20,188.90L295.80,190.50M295.80,190.50L305.40,193.30M305.40,193.30L315.00,194.70M315.00,194.70L319.60,196.40M319.60,196.40L329.20,197.80M329.20,197.80L338.80,198.90M338.80,198.90L348.50,199.30M348.50,199.30L358.10,200.80M358.10,200.80L367.70,202.20M367.70,202.20L375.40,203.20M375.40,203.20L381.20,207.00M381.20,207.00L386.90,208.90M386.90,208.90L394.60,210.50M394.60,210.50L404.20,210.80M404.20,210.80L408.80,211.80M408.80,211.80L409.80,214.70M409.80,214.70L414.60,216.60M427.10,216.60L428.10,220.10" fill="none" stroke="#9e0015" stroke-width="1.6" stroke-linecap="round"/>
<path d="M430.00,217.70v4.80M433.80,217.70v4.80M439.60,217.70v4.80M443.50,217.70v4.80M454.00,222.90v4.80M456.00,222.90v4.80M466.50,222.90v4.80M470.40,222.90v4.80M475.20,222.90v4.80M481.90,222.90v4.80M498.30,222.90v4.80M126.37,60.30v3.53M127.72,64.68v3.62M128.47,66.44v4.03M130.79,69.59v4.70M132.84,74.52v3.73M134.46,77.37v3.82M135.40,80.47v3.54M136.42,81.93v4.92M138.58,86.59v4.72M140.69,91.16v3.68M141.88,92.75v4.41M143.86,102.40v4.80M146.12,112.82v3.51M147.87,116.97v4.49M149.43,120.57v3.66M150.93,123.68v3.51M153.29,126.95v4.81M154.93,129.87v3.86M157.24,134.98v4.32M159.50,139.29v4.78M161.06,141.52v4.06M162.80,143.56v4.08M163.72,144.76v3.87M165.85,147.52v3.43M166.55,147.88v4.41M167.70,149.32v4.26M169.19,151.14v3.94M171.67,152.65v3.69M173.06,153.42v3.70M174.85,154.36v3.82M176.13,154.66v4.61M177.35,155.44v4.30M179.65,156.99v3.53M180.39,157.25v3.74M182.43,157.96v4.39M183.49,158.74v3.92M184.44,158.91v4.13M185.14,158.91v4.53M187.43,159.36v4.96M189.42,159.94v4.97M190.07,160.69v3.85M192.49,160.99v4.66M193.87,161.31v4.94M195.64,162.06v4.73M196.81,163.01v3.68M198.26,163.58v3.59M199.59,163.38v4.98M200.82,164.63v3.38M201.52,164.75v3.64M203.60,165.18v3.97M204.76,165.60v3.52M207.21,165.76v4.07M208.22,166.25v3.46M208.94,166.28v3.64M210.82,166.63v3.61M211.51,166.47v4.18M212.60,166.29v5.04M213.44,167.00v4.25M215.50,167.86v4.05M217.96,168.70v4.16M219.03,168.99v4.05M219.72,169.13v4.07M220.80,168.97v4.85M222.97,169.75v4.20M223.65,170.10v3.79M224.72,170.37v3.71M225.77,170.04v4.82M226.65,170.92v3.45M229.00,170.99v4.31M231.46,171.65v4.04M233.75,171.94v4.46M235.85,172.31v4.61M237.39,173.19v3.52M238.40,172.83v4.83M240.69,173.94v4.91M241.94,174.79v4.46M244.04,175.85v4.44M246.18,177.02v4.25M248.02,177.70v4.51M249.14,177.68v4.91M251.54,178.79v3.48M253.96,178.45v4.98M255.82,179.52v3.43M258.12,179.83v3.57M260.54,179.65v4.48M261.27,180.11v3.64M263.07,179.89v4.32M265.08,179.72v4.92M266.11,180.57v3.37M268.44,180.71v3.38M270.69,180.77v3.55M272.82,180.35v4.68M275.07,181.12v4.29M277.33,183.61v3.70M279.20,184.92v3.92M281.47,185.47v4.66M282.97,186.28v4.24M283.64,186.97v3.42M285.37,186.97v4.18M287.59,187.18v4.38M288.47,187.50v3.97M290.52,187.65v4.24M291.16,187.48v4.77M293.32,188.41v3.50M294.95,188.38v4.00M297.03,188.92v3.88M298.09,189.08v4.18M300.51,190.11v3.52M301.34,189.91v4.40M303.61,190.67v4.22M305.03,190.79v4.80M307.10,191.81v3.47M309.36,192.03v3.69M310.54,191.67v4.77M311.94,191.90v4.70M312.88,191.98v4.83M313.82,192.72v3.61M315.36,192.87v3.93M316.99,193.00v4.88M318.93,194.47v3.37M320.13,194.34v4.28M321.66,194.42v4.56M323.18,195.18v3.49M324.25,194.69v4.78M325.54,194.94v4.65M327.99,195.42v4.41M329.87,195.68v4.38M331.07,195.57v4.89M332.56,195.74v4.89M333.75,195.91v4.82M335.83,196.37v4.39M337.28,196.93v3.60M339.33,196.94v3.97M341.18,197.21v3.58M341.96,197.23v3.60M344.08,197.29v3.66M346.38,197.22v3.98M348.07,197.31v3.95M349.84,197.75v3.52M351.21,197.26v4.93M352.17,197.64v4.46M353.39,198.13v3.86M354.06,198.47v3.39M356.44,198.16v4.75M358.55,198.51v4.72M360.95,199.40v3.63M362.65,199.37v4.19M364.34,199.24v4.94M366.37,199.51v4.99M367.21,199.90v4.45M369.09,200.07v4.61M370.86,200.23v4.76M372.04,200.30v4.92M373.42,200.76v4.37M375.70,201.13v4.54M376.90,202.31v3.75M378.13,202.78v4.41M380.60,204.17v4.87M381.97,205.24v4.03M384.11,206.05v3.84M385.49,206.74v3.38M386.45,206.62v4.27M388.36,207.01v4.39M389.66,206.99v4.96M391.44,208.03v3.62M392.19,207.50v5.00M394.64,208.05v4.91M396.39,208.61v3.88M397.18,208.68v3.79M398.21,208.15v4.92M400.49,208.35v4.67M401.39,208.83v3.76M402.56,208.27v4.95M403.49,208.43v4.69M405.37,208.92v4.28M407.78,209.68v3.80M409.37,211.65v3.62M410.17,213.14v3.41M411.38,213.54v3.56M412.12,213.10v5.03M413.27,213.65v4.86M415.20,214.31v4.59M417.04,214.12v4.96M419.29,214.32v4.57M420.95,214.34v4.53M422.92,214.46v4.29M424.47,214.79v3.62M426.66,214.51v4.17M427.41,215.86v3.64" fill="none" stroke="#9e0015" stroke-width="1"/>
<path d="M124.60,52.40H499.80V314.00H124.60Z" stroke="#000" stroke-width="2" fill="none"/>
<text x="203.4" y="250.0" font-size="8.45" text-anchor="middle" font-weight="bold" fill="#000" stroke="#000" stroke-width="0.2">IPI Risk Group</text>
<text x="270.9" y="250.0" font-size="8.65" text-anchor="middle" font-weight="bold" fill="#000" stroke="#000" stroke-width="0.2">Events/Total</text>
<text x="331.2" y="250.0" font-size="8.55" text-anchor="middle" font-weight="bold" fill="#000" stroke="#000" stroke-width="0.2">Time-Point</text>
<text x="433.3" y="250.0" font-size="8.87" text-anchor="end" font-weight="bold" fill="#000" stroke="#000" stroke-width="0.2">KM Est (95% CI)</text>
<path d="M130.8,258.85H146.0" stroke="#5fa440" stroke-width="1.7"/>
<text x="203.4" y="261.1" font-size="8.75" text-anchor="middle" font-weight="normal" fill="#111" stroke="#111" stroke-width="0.2">Low (0-1)</text>
<text x="270.9" y="261.1" font-size="8.9" text-anchor="middle" font-weight="normal" fill="#111" stroke="#111" stroke-width="0.2">119/721</text>
<text x="331.2" y="261.1" font-size="8.25" text-anchor="middle" font-weight="normal" fill="#111" stroke="#111" stroke-width="0.2">5 Years</text>
<text x="433.3" y="261.1" font-size="8.6" text-anchor="end" font-weight="normal" fill="#111" stroke="#111" stroke-width="0.2">81.4 (78.0-84.9%)</text>
<path d="M130.8,269.95H146.0" stroke="#2f4d80" stroke-width="1.7"/>
<text x="203.4" y="272.2" font-size="8.75" text-anchor="middle" font-weight="normal" fill="#111" stroke="#111" stroke-width="0.2">Low-Intermediate (2)</text>
<text x="270.9" y="272.2" font-size="8.9" text-anchor="middle" font-weight="normal" fill="#111" stroke="#111" stroke-width="0.2">153/477</text>
<text x="331.2" y="272.2" font-size="8.25" text-anchor="middle" font-weight="normal" fill="#111" stroke="#111" stroke-width="0.2">5 Years</text>
<text x="433.3" y="272.2" font-size="8.6" text-anchor="end" font-weight="normal" fill="#111" stroke="#111" stroke-width="0.2">67.0 (62.5-71.8%)</text>
<path d="M130.8,281.05H146.0" stroke="#da8200" stroke-width="1.7"/>
<text x="203.4" y="283.3" font-size="8.75" text-anchor="middle" font-weight="normal" fill="#111" stroke="#111" stroke-width="0.2">High-Intermediate (3)</text>
<text x="270.9" y="283.3" font-size="8.9" text-anchor="middle" font-weight="normal" fill="#111" stroke="#111" stroke-width="0.2">200/483</text>
<text x="331.2" y="283.3" font-size="8.25" text-anchor="middle" font-weight="normal" fill="#111" stroke="#111" stroke-width="0.2">5 Years</text>
<text x="433.3" y="283.3" font-size="8.6" text-anchor="end" font-weight="normal" fill="#111" stroke="#111" stroke-width="0.2">58.4 (53.9-63.1%)</text>
<path d="M130.8,292.15H146.0" stroke="#9e0015" stroke-width="1.7"/>
<text x="203.4" y="294.4" font-size="8.75" text-anchor="middle" font-weight="normal" fill="#111" stroke="#111" stroke-width="0.2">High (4-5)</text>
<text x="270.9" y="294.4" font-size="8.9" text-anchor="middle" font-weight="normal" fill="#111" stroke="#111" stroke-width="0.2">236/424</text>
<text x="331.2" y="294.4" font-size="8.25" text-anchor="middle" font-weight="normal" fill="#111" stroke="#111" stroke-width="0.2">5 Years</text>
<text x="433.3" y="294.4" font-size="8.6" text-anchor="end" font-weight="normal" fill="#111" stroke="#111" stroke-width="0.2">45.8 (41.1-51.0%)</text>
<text x="156.2" y="305.5" font-size="8.56" text-anchor="start" font-weight="normal" fill="#111" stroke="#111" stroke-width="0.2">Logrank P-value: &lt;.0001</text>
<text x="433.3" y="305.5" font-size="8.46" text-anchor="end" font-weight="normal" fill="#111" stroke="#111" stroke-width="0.2">+ Censor</text>
<text x="109.6" y="399.1" font-size="8.8" text-anchor="end" font-weight="normal" fill="#111" stroke="#111" stroke-width="0.2">Low (0-1)</text>
<text x="124.6" y="399.1" font-size="9.0" text-anchor="middle" font-weight="normal" fill="#111" stroke="#111" stroke-width="0.2">721</text>
<text x="162.1" y="399.1" font-size="9.0" text-anchor="middle" font-weight="normal" fill="#111" stroke="#111" stroke-width="0.2">599</text>
<text x="199.6" y="399.1" font-size="9.0" text-anchor="middle" font-weight="normal" fill="#111" stroke="#111" stroke-width="0.2">457</text>
<text x="237.2" y="399.1" font-size="9.0" text-anchor="middle" font-weight="normal" fill="#111" stroke="#111" stroke-width="0.2">331</text>
<text x="274.7" y="399.1" font-size="9.0" text-anchor="middle" font-weight="normal" fill="#111" stroke="#111" stroke-width="0.2">252</text>
<text x="312.2" y="399.1" font-size="9.0" text-anchor="middle" font-weight="normal" fill="#111" stroke="#111" stroke-width="0.2">213</text>
<text x="349.7" y="399.1" font-size="9.0" text-anchor="middle" font-weight="normal" fill="#111" stroke="#111" stroke-width="0.2">146</text>
<text x="387.2" y="399.1" font-size="9.0" text-anchor="middle" font-weight="normal" fill="#111" stroke="#111" stroke-width="0.2">94</text>
<text x="424.8" y="399.1" font-size="9.0" text-anchor="middle" font-weight="normal" fill="#111" stroke="#111" stroke-width="0.2">42</text>
<text x="462.3" y="399.1" font-size="9.0" text-anchor="middle" font-weight="normal" fill="#111" stroke="#111" stroke-width="0.2">6</text>
<text x="499.8" y="399.1" font-size="9.0" text-anchor="middle" font-weight="normal" fill="#111" stroke="#111" stroke-width="0.2">1</text>
<text x="109.6" y="414.7" font-size="8.8" text-anchor="end" font-weight="normal" fill="#111" stroke="#111" stroke-width="0.2">Low-Intermediate (2)</text>
<text x="124.6" y="414.7" font-size="9.0" text-anchor="middle" font-weight="normal" fill="#111" stroke="#111" stroke-width="0.2">477</text>
<text x="162.1" y="414.7" font-size="9.0" text-anchor="middle" font-weight="normal" fill="#111" stroke="#111" stroke-width="0.2">401</text>
<text x="199.6" y="414.7" font-size="9.0" text-anchor="middle" font-weight="normal" fill="#111" stroke="#111" stroke-width="0.2">335</text>
<text x="237.2" y="414.7" font-size="9.0" text-anchor="middle" font-weight="normal" fill="#111" stroke="#111" stroke-width="0.2">284</text>
<text x="274.7" y="414.7" font-size="9.0" text-anchor="middle" font-weight="normal" fill="#111" stroke="#111" stroke-width="0.2">234</text>
<text x="312.2" y="414.7" font-size="9.0" text-anchor="middle" font-weight="normal" fill="#111" stroke="#111" stroke-width="0.2">169</text>
<text x="349.7" y="414.7" font-size="9.0" text-anchor="middle" font-weight="normal" fill="#111" stroke="#111" stroke-width="0.2">115</text>
<text x="387.2" y="414.7" font-size="9.0" text-anchor="middle" font-weight="normal" fill="#111" stroke="#111" stroke-width="0.2">58</text>
<text x="424.8" y="414.7" font-size="9.0" text-anchor="middle" font-weight="normal" fill="#111" stroke="#111" stroke-width="0.2">31</text>
<text x="462.3" y="414.7" font-size="9.0" text-anchor="middle" font-weight="normal" fill="#111" stroke="#111" stroke-width="0.2">9</text>
<text x="499.8" y="414.7" font-size="9.0" text-anchor="middle" font-weight="normal" fill="#111" stroke="#111" stroke-width="0.2">3</text>
<text x="109.6" y="430.2" font-size="8.8" text-anchor="end" font-weight="normal" fill="#111" stroke="#111" stroke-width="0.2">High-Intermediate (3)</text>
<text x="124.6" y="430.2" font-size="9.0" text-anchor="middle" font-weight="normal" fill="#111" stroke="#111" stroke-width="0.2">483</text>
<text x="162.1" y="430.2" font-size="9.0" text-anchor="middle" font-weight="normal" fill="#111" stroke="#111" stroke-width="0.2">378</text>
<text x="199.6" y="430.2" font-size="9.0" text-anchor="middle" font-weight="normal" fill="#111" stroke="#111" stroke-width="0.2">313</text>
<text x="237.2" y="430.2" font-size="9.0" text-anchor="middle" font-weight="normal" fill="#111" stroke="#111" stroke-width="0.2">270</text>
<text x="274.7" y="430.2" font-size="9.0" text-anchor="middle" font-weight="normal" fill="#111" stroke="#111" stroke-width="0.2">223</text>
<text x="312.2" y="430.2" font-size="9.0" text-anchor="middle" font-weight="normal" fill="#111" stroke="#111" stroke-width="0.2">171</text>
<text x="349.7" y="430.2" font-size="9.0" text-anchor="middle" font-weight="normal" fill="#111" stroke="#111" stroke-width="0.2">115</text>
<text x="387.2" y="430.2" font-size="9.0" text-anchor="middle" font-weight="normal" fill="#111" stroke="#111" stroke-width="0.2">73</text>
<text x="424.8" y="430.2" font-size="9.0" text-anchor="middle" font-weight="normal" fill="#111" stroke="#111" stroke-width="0.2">35</text>
<text x="462.3" y="430.2" font-size="9.0" text-anchor="middle" font-weight="normal" fill="#111" stroke="#111" stroke-width="0.2">16</text>
<text x="499.8" y="430.2" font-size="9.0" text-anchor="middle" font-weight="normal" fill="#111" stroke="#111" stroke-width="0.2">8</text>
<text x="109.6" y="445.8" font-size="8.8" text-anchor="end" font-weight="normal" fill="#111" stroke="#111" stroke-width="0.2">High (4-5)</text>
<text x="124.6" y="445.8" font-size="9.0" text-anchor="middle" font-weight="normal" fill="#111" stroke="#111" stroke-width="0.2">424</text>
<text x="162.1" y="445.8" font-size="9.0" text-anchor="middle" font-weight="normal" fill="#111" stroke="#111" stroke-width="0.2">275</text>
<text x="199.6" y="445.8" font-size="9.0" text-anchor="middle" font-weight="normal" fill="#111" stroke="#111" stroke-width="0.2">238</text>
<text x="237.2" y="445.8" font-size="9.0" text-anchor="middle" font-weight="normal" fill="#111" stroke="#111" stroke-width="0.2">204</text>
<text x="274.7" y="445.8" font-size="9.0" text-anchor="middle" font-weight="normal" fill="#111" stroke="#111" stroke-width="0.2">165</text>
<text x="312.2" y="445.8" font-size="9.0" text-anchor="middle" font-weight="normal" fill="#111" stroke="#111" stroke-width="0.2">118</text>
<text x="349.7" y="445.8" font-size="9.0" text-anchor="middle" font-weight="normal" fill="#111" stroke="#111" stroke-width="0.2">81</text>
<text x="387.2" y="445.8" font-size="9.0" text-anchor="middle" font-weight="normal" fill="#111" stroke="#111" stroke-width="0.2">45</text>
<text x="424.8" y="445.8" font-size="9.0" text-anchor="middle" font-weight="normal" fill="#111" stroke="#111" stroke-width="0.2">24</text>
<text x="462.3" y="445.8" font-size="9.0" text-anchor="middle" font-weight="normal" fill="#111" stroke="#111" stroke-width="0.2">15</text>
<text x="499.8" y="445.8" font-size="9.0" text-anchor="middle" font-weight="normal" fill="#111" stroke="#111" stroke-width="0.2">7</text>
<text x="18.6" y="498.8" font-size="24" text-anchor="start" font-weight="bold" fill="#000" stroke="#000" stroke-width="0.2">B</text>
<text x="198.2" y="514.8" font-size="13.8" text-anchor="start" font-weight="normal" fill="#111" stroke="#111" stroke-width="0.2" textLength="227.0" lengthAdjust="spacingAndGlyphs">Progression Free Survival by R-IPI</text>
<text transform="translate(84.1,727.3) rotate(-90)" x="0" y="0" font-size="15.4" fill="#111" stroke="#111" stroke-width="0.3" textLength="147.1" lengthAdjust="spacingAndGlyphs">Progression free survival, %</text>
<text x="112.3" y="781.1" font-size="11.1" text-anchor="end" font-weight="normal" fill="#111" stroke="#111" stroke-width="0.2">0</text>
<text x="112.3" y="756.5" font-size="11.1" text-anchor="end" font-weight="normal" fill="#111" stroke="#111" stroke-width="0.2">10</text>
<text x="112.3" y="731.8" font-size="11.1" text-anchor="end" font-weight="normal" fill="#111" stroke="#111" stroke-width="0.2">20</text>
<text x="112.3" y="707.2" font-size="11.1" text-anchor="end" font-weight="normal" fill="#111" stroke="#111" stroke-width="0.2">30</text>
<text x="112.3" y="682.6" font-size="11.1" text-anchor="end" font-weight="normal" fill="#111" stroke="#111" stroke-width="0.2">40</text>
<text x="112.3" y="657.9" font-size="11.1" text-anchor="end" font-weight="normal" fill="#111" stroke="#111" stroke-width="0.2">50</text>
<text x="112.3" y="633.3" font-size="11.1" text-anchor="end" font-weight="normal" fill="#111" stroke="#111" stroke-width="0.2">60</text>
<text x="112.3" y="608.7" font-size="11.1" text-anchor="end" font-weight="normal" fill="#111" stroke="#111" stroke-width="0.2">70</text>
<text x="112.3" y="584.1" font-size="11.1" text-anchor="end" font-weight="normal" fill="#111" stroke="#111" stroke-width="0.2">80</text>
<text x="112.3" y="559.4" font-size="11.1" text-anchor="end" font-weight="normal" fill="#111" stroke="#111" stroke-width="0.2">90</text>
<text x="112.3" y="534.8" font-size="11.1" text-anchor="end" font-weight="normal" fill="#111" stroke="#111" stroke-width="0.2">100</text>
<text x="124.6" y="804.4" font-size="11.1" text-anchor="middle" font-weight="normal" fill="#111" stroke="#111" stroke-width="0.2">0</text>
<text x="162.1" y="804.4" font-size="11.1" text-anchor="middle" font-weight="normal" fill="#111" stroke="#111" stroke-width="0.2">1</text>
<text x="199.6" y="804.4" font-size="11.1" text-anchor="middle" font-weight="normal" fill="#111" stroke="#111" stroke-width="0.2">2</text>
<text x="237.1" y="804.4" font-size="11.1" text-anchor="middle" font-weight="normal" fill="#111" stroke="#111" stroke-width="0.2">3</text>
<text x="274.6" y="804.4" font-size="11.1" text-anchor="middle" font-weight="normal" fill="#111" stroke="#111" stroke-width="0.2">4</text>
<text x="312.1" y="804.4" font-size="11.1" text-anchor="middle" font-weight="normal" fill="#111" stroke="#111" stroke-width="0.2">5</text>
<text x="349.7" y="804.4" font-size="11.1" text-anchor="middle" font-weight="normal" fill="#111" stroke="#111" stroke-width="0.2">6</text>
<text x="387.2" y="804.4" font-size="11.1" text-anchor="middle" font-weight="normal" fill="#111" stroke="#111" stroke-width="0.2">7</text>
<text x="424.7" y="804.4" font-size="11.1" text-anchor="middle" font-weight="normal" fill="#111" stroke="#111" stroke-width="0.2">8</text>
<text x="462.2" y="804.4" font-size="11.1" text-anchor="middle" font-weight="normal" fill="#111" stroke="#111" stroke-width="0.2">9</text>
<text x="499.7" y="804.4" font-size="11.1" text-anchor="middle" font-weight="normal" fill="#111" stroke="#111" stroke-width="0.2">10</text>
<path d="M118.40,777.20H124.60M118.40,752.57H124.60M118.40,727.94H124.60M118.40,703.31H124.60M118.40,678.68H124.60M118.40,654.05H124.60M118.40,629.42H124.60M118.40,604.79H124.60M118.40,580.16H124.60M118.40,555.53H124.60M118.40,530.90H124.60M124.60,782.80V789.10M162.11,782.80V789.10M199.62,782.80V789.10M237.13,782.80V789.10M274.64,782.80V789.10M312.15,782.80V789.10M349.66,782.80V789.10M387.17,782.80V789.10M424.68,782.80V789.10M462.19,782.80V789.10M499.70,782.80V789.10" stroke="#000" stroke-width="1.5" fill="none"/>
<text x="280.3" y="826.3" font-size="15.2" text-anchor="start" font-weight="normal" fill="#111" stroke="#111" stroke-width="0.35" textLength="63.8" lengthAdjust="spacingAndGlyphs">Time (years)</text>
<text x="275.0" y="851.3" font-size="9.5" text-anchor="start" font-weight="normal" fill="#111" stroke="#111" stroke-width="0.2" textLength="74.4" lengthAdjust="spacingAndGlyphs">Patients-at-Risk</text>
<path d="M124.80,530.80H126.42V531.20H128.03V531.60H129.65V532.00H131.27V532.40H132.88V532.80H134.50V533.20H136.40V535.60H138.00V537.37H139.60V539.13H141.20V540.90H142.80V541.37H144.40V541.83H146.00V542.30H147.60V542.80H149.20V543.30H150.80V543.80H152.43V544.27H154.07V544.73H155.70V545.20H157.30V546.17H158.90V547.13H160.50V548.10H162.10V548.43H163.70V548.77H165.30V549.10H166.98V549.58H168.65V550.05H170.32V550.52H172.00V551.00H177.70H179.15V551.33H180.60V551.65H182.05V551.97H183.50V552.30H185.40V553.50H230.40H231.90V556.70H252.50H253.10V563.40H489.20" fill="none" stroke="#5fa440" stroke-width="1.6" stroke-linejoin="miter"/>
<path d="M124.80,530.80L134.50,533.20M134.50,533.20L136.40,535.60M136.40,535.60L141.20,540.90M141.20,540.90L146.00,542.30M146.00,542.30L150.80,543.80M150.80,543.80L155.70,545.20M155.70,545.20L160.50,548.10M160.50,548.10L165.30,549.10M165.30,549.10L172.00,551.00M177.70,551.00L183.50,552.30M183.50,552.30L185.40,553.50M230.40,553.50L231.90,556.70M252.50,556.70L253.10,563.40" fill="none" stroke="#5fa440" stroke-width="1.6" stroke-linecap="round"/>
<path d="M281.30,561.00v4.80M283.30,561.00v4.80M305.40,561.00v4.80M310.20,561.00v4.80M326.30,561.00v4.80M341.70,561.00v4.80M348.50,561.00v4.80M359.60,561.00v4.80M365.80,561.00v4.80M372.50,561.00v4.80M376.30,561.00v4.80M392.70,561.00v4.80M397.50,561.00v4.80M401.30,561.00v4.80M405.20,561.00v4.80M409.00,561.00v4.80M409.80,561.00v4.80M420.00,561.00v4.80M421.30,561.00v4.80M439.60,561.00v4.80M461.70,561.00v4.80M470.40,561.00v4.80M488.70,561.00v4.80M126.87,529.01v4.61M128.77,529.31v4.94M130.57,529.77v4.91M131.18,530.31v4.14M133.32,530.68v4.45M135.40,532.56v3.55M136.75,534.10v3.77M138.22,535.45v4.32M138.80,536.39v3.72M139.83,536.94v4.90M141.68,539.23v3.63M143.58,539.80v3.59M145.17,540.27v3.57M145.74,539.81v4.82M146.65,540.64v3.72M148.86,540.78v4.83M149.91,541.03v4.98M151.37,541.71v4.50M152.28,541.75v4.94M154.00,542.22v4.98M156.06,543.48v3.86M157.22,544.30v3.64M158.03,544.87v3.47M159.10,545.06v4.37M159.66,545.34v4.50M160.79,546.22v3.88M162.72,546.48v4.17M163.81,546.71v4.17M165.56,547.45v3.46M167.76,548.10v3.40M169.58,547.92v4.78M170.17,548.14v4.68M171.34,548.65v4.33M171.92,549.26v3.44M172.78,548.52v4.96M173.67,548.69v4.63M175.79,548.53v4.94M176.93,549.02v3.96M178.37,548.82v4.66M179.11,549.01v4.62M181.01,549.34v4.80M181.63,549.41v4.95M182.35,550.08v3.93M183.93,550.12v4.90M185.07,550.83v4.91M186.54,551.56v3.88M187.63,551.67v3.66M188.32,551.69v3.61M190.04,550.98v5.03M190.87,551.78v3.44M193.09,551.37v4.26M194.33,551.62v3.76M195.89,551.13v4.75M197.22,551.47v4.07M197.87,551.05v4.90M198.49,551.41v4.19M200.45,551.71v3.58M202.24,551.02v4.96M203.86,551.16v4.68M204.60,551.45v4.09M205.41,551.11v4.78M206.47,551.44v4.12M208.71,551.10v4.79M210.91,551.44v4.12M212.29,551.21v4.59M213.65,551.58v3.85M214.89,551.70v3.61M216.08,550.99v5.02M218.26,551.29v4.41M219.65,551.54v3.93M220.36,551.59v3.82M222.24,551.09v4.82M223.40,551.16v4.68M225.27,551.24v4.53M226.94,551.18v4.64M228.11,551.23v4.54M229.14,551.41v4.18M231.00,552.51v4.52M232.05,554.23v4.95M233.70,554.53v4.34M234.28,554.56v4.28M235.26,554.46v4.49M236.60,554.33v4.73M238.25,554.35v4.70M239.39,554.48v4.44M241.19,554.32v4.75M242.34,554.31v4.78M244.36,554.44v4.52M246.56,554.22v4.97M247.99,554.58v4.25M248.83,554.32v4.77M250.97,554.62v4.16M252.69,556.52v4.57M254.48,561.58v3.65M256.35,561.23v4.34M258.02,561.37v4.07M259.63,561.07v4.66M261.26,561.11v4.57M261.87,561.59v3.63" fill="none" stroke="#5fa440" stroke-width="1"/>
<path d="M124.80,530.80H130.70H131.60V534.20H132.90V535.00H134.20V535.80H135.50V536.60H136.40V539.50H138.00V540.77H139.60V542.03H141.20V543.30H142.80V544.90H144.40V546.50H146.00V548.10H147.60V549.07H149.20V550.03H150.80V551.00H152.43V551.97H154.07V552.93H155.70V553.90H157.30V555.50H158.90V557.10H160.50V558.70H162.10V559.17H163.70V559.63H165.30V560.10H166.98V560.95H168.65V561.80H170.32V562.65H172.00V563.50H173.27V564.27H174.53V565.03H175.80V565.80H177.23V566.17H178.65V566.55H180.07V566.92H181.50V567.30H183.04V567.88H184.58V568.46H186.12V569.04H187.66V569.62H189.20V570.20H190.74V570.58H192.28V570.96H193.82V571.34H195.36V571.72H196.90V572.10H198.44V572.48H199.98V572.86H201.52V573.24H203.06V573.62H204.60V574.00H206.14V574.28H207.68V574.56H209.22V574.84H210.76V575.12H212.30V575.40H213.84V575.62H215.38V575.84H216.92V576.06H218.46V576.28H220.00V576.50H221.53V576.77H223.07V577.03H224.60V577.30H226.20V577.50H227.80V577.70H229.40V577.90H231.00V578.10H232.60V578.30H234.20V578.50H235.80V579.03H237.40V579.57H239.00V580.10H240.60V580.63H242.20V581.17H243.80V581.70H245.42V582.12H247.03V582.53H248.65V582.95H250.27V583.37H251.88V583.78H253.50V584.20H255.10V584.65H256.70V585.10H258.30V585.55H259.90V586.00H261.50V586.45H263.10V586.90H264.53V587.52H265.95V588.15H267.38V588.77H268.80V589.40H270.42V589.63H272.03V589.87H273.65V590.10H275.27V590.33H276.88V590.57H278.50V590.80H279.99V590.97H281.48V591.13H282.97V591.30H284.46V591.47H285.94V591.63H287.43V591.80H288.92V591.97H290.41V592.13H291.90V592.30H293.35V592.77H294.80V593.25H296.25V593.73H297.70V594.20H299.30V594.53H300.90V594.87H302.50V595.20H304.10V595.53H305.70V595.87H307.30V596.20H308.77V596.23H310.25V596.25H311.72V596.28H313.19V596.31H314.66V596.34H316.14V596.36H317.61V596.39H319.08V596.42H320.55V596.45H322.03V596.47H323.50V596.50H324.93V597.05H326.35V597.60H327.77V598.15H329.20V598.70H330.80V599.02H332.40V599.33H334.00V599.65H335.60V599.97H337.20V600.28H338.80V600.60H340.42V601.08H342.03V601.57H343.65V602.05H345.27V602.53H346.88V603.02H348.50V603.50H350.10V603.82H351.70V604.13H353.30V604.45H354.90V604.77H356.50V605.08H358.10V605.40H359.70V605.65H361.30V605.90H362.90V606.15H364.50V606.40H366.10V606.65H367.70V606.90H369.24V607.06H370.78V607.22H372.32V607.38H373.86V607.54H375.40V607.70H376.94V608.46H378.48V609.22H380.02V609.98H381.56V610.74H383.10V611.50H384.37V611.90H385.63V612.30H386.90V612.70H400.40H402.00V612.92H403.60V613.13H405.20V613.35H406.80V613.57H408.40V613.78H410.00V614.00H414.60H415.60V616.00H431.00H431.90V618.50H476.20V636.20H493.80V659.60H499.20" fill="none" stroke="#2f4d80" stroke-width="1.6" stroke-linejoin="miter"/>
<path d="M130.70,530.80L131.60,534.20M131.60,534.20L135.50,536.60M135.50,536.60L136.40,539.50M136.40,539.50L141.20,543.30M141.20,543.30L146.00,548.10M146.00,548.10L150.80,551.00M150.80,551.00L155.70,553.90M155.70,553.90L160.50,558.70M160.50,558.70L165.30,560.10M165.30,560.10L172.00,563.50M172.00,563.50L175.80,565.80M175.80,565.80L181.50,567.30M181.50,567.30L189.20,570.20M189.20,570.20L196.90,572.10M196.90,572.10L204.60,574.00M204.60,574.00L212.30,575.40M212.30,575.40L220.00,576.50M220.00,576.50L224.60,577.30M224.60,577.30L234.20,578.50M234.20,578.50L243.80,581.70M243.80,581.70L253.50,584.20M253.50,584.20L263.10,586.90M263.10,586.90L268.80,589.40M268.80,589.40L278.50,590.80M278.50,590.80L291.90,592.30M291.90,592.30L297.70,594.20M297.70,594.20L307.30,596.20M323.50,596.50L329.20,598.70M329.20,598.70L338.80,600.60M338.80,600.60L348.50,603.50M348.50,603.50L358.10,605.40M358.10,605.40L367.70,606.90M367.70,606.90L375.40,607.70M375.40,607.70L383.10,611.50M383.10,611.50L386.90,612.70M400.40,612.70L410.00,614.00M414.60,614.00L415.60,616.00M431.00,616.00L431.90,618.50" fill="none" stroke="#2f4d80" stroke-width="1.6" stroke-linecap="round"/>
<path d="M443.50,616.10v4.80M451.20,616.10v4.80M455.40,616.10v4.80M460.80,616.10v4.80M467.50,616.10v4.80M481.90,633.80v4.80M489.60,633.80v4.80M127.11,528.43v4.74M128.49,528.90v3.80M129.05,528.56v4.47M130.40,528.48v4.64M131.58,531.81v4.65M132.60,532.46v4.71M134.39,533.89v4.06M135.85,535.48v4.51M136.74,537.62v4.29M138.65,539.38v3.81M140.56,540.54v4.51M142.54,542.67v3.92M143.25,543.00v4.70M145.17,545.21v4.11M145.88,546.14v3.69M147.51,547.09v3.85M149.67,548.14v4.35M150.57,548.63v4.46M151.73,549.09v4.93M153.82,550.67v4.22M155.46,551.49v4.53M157.37,553.07v5.00M157.98,554.20v3.97M159.55,555.82v3.87M161.10,557.12v3.51M163.14,557.35v4.24M163.90,557.45v4.47M164.98,558.16v3.69M166.36,558.84v3.59M167.27,558.69v4.81M169.00,560.29v3.38M170.87,561.23v3.39M171.99,561.05v4.88M173.59,562.52v3.87M174.78,563.18v4.01M175.56,563.13v5.04M176.21,563.87v4.07M178.02,564.37v4.03M180.23,565.08v3.77M182.43,565.22v4.86M184.12,565.86v4.85M185.43,566.40v4.76M187.33,567.38v4.23M188.68,567.73v4.55M189.93,568.63v3.50M191.74,568.92v3.81M193.12,568.83v4.68M193.97,569.68v3.40M194.74,569.39v4.35M195.90,569.96v3.79M197.22,569.72v4.92M198.21,570.40v4.05M200.25,570.73v4.39M201.26,571.10v4.16M202.62,571.71v3.60M203.82,571.87v3.87M205.73,572.25v3.90M207.40,572.01v4.99M209.51,572.90v3.99M211.08,573.23v3.90M212.31,573.31v4.18M214.20,573.20v4.93M215.25,574.14v3.37M216.56,574.28v3.46M217.18,573.77v4.66M217.92,573.92v4.57M219.09,573.90v4.94M221.09,574.96v3.46M221.97,574.37v4.95M223.56,575.08v4.07M225.43,575.04v4.73M226.82,575.50v4.15M227.55,575.68v3.97M228.35,575.56v4.41M229.93,576.17v3.60M231.55,576.41v3.52M232.28,576.04v4.44M233.62,575.99v4.87M235.24,576.58v4.54M236.01,576.72v4.76M236.71,577.14v4.40M238.80,577.59v4.88M240.86,578.66v4.12M242.59,578.95v4.69M243.38,579.09v4.94M245.47,580.08v4.10M247.33,580.56v4.11M248.36,580.60v4.56M249.02,580.69v4.70M251.23,581.69v3.84M253.37,582.42v3.50M255.37,582.81v3.83M257.55,583.30v4.08M259.66,584.23v3.41M260.36,583.76v4.73M262.00,584.46v4.26M262.61,584.94v3.65M263.79,585.48v3.45M266.02,585.86v4.65M268.18,586.86v4.54M269.32,587.73v3.49M271.10,587.96v3.55M272.58,587.88v4.14M273.97,588.40v3.49M274.66,588.13v4.23M275.27,588.21v4.24M276.08,588.53v3.83M276.90,588.41v4.31M278.11,588.88v3.73M279.04,588.71v4.31M281.13,589.06v4.06M281.97,589.24v3.89M282.93,589.13v4.32M284.81,589.35v4.32M285.69,589.65v3.91M286.89,589.69v4.10M288.11,589.36v5.04M289.60,589.81v4.47M291.36,590.02v4.44M293.28,590.76v3.99M294.96,590.80v4.99M295.79,591.37v4.41M297.00,592.24v3.46M297.63,591.86v4.64M298.38,592.06v4.55M299.11,592.50v3.98M299.72,592.48v4.27M301.60,593.14v3.74M303.11,592.87v4.91M304.16,593.47v4.15M305.94,593.51v4.81M306.78,593.86v4.47M307.55,594.43v3.55M309.76,594.52v3.44M311.86,593.97v4.62M313.56,594.02v4.59M315.21,594.43v3.84M316.52,594.52v3.70M318.52,594.07v4.67M320.40,594.58v3.72M321.96,594.58v3.79M323.85,594.33v4.61M326.08,595.22v4.55M327.79,595.82v4.67M328.50,596.25v4.36M329.12,596.68v3.98M329.88,596.36v4.95M330.48,596.50v4.91M332.64,597.33v4.09M334.59,598.04v3.45M335.39,598.24v3.38M336.06,598.38v3.36M338.01,598.69v3.51M339.57,598.92v3.82M340.35,599.03v4.06M341.21,598.82v5.00M342.42,599.50v4.36M343.93,599.93v4.41M345.29,600.63v3.81M346.08,600.35v4.85M346.97,600.98v4.11M348.88,601.41v4.33M351.04,601.64v4.72M352.46,602.50v3.56M354.02,602.51v4.16M356.02,602.86v4.25M357.75,602.97v4.72M359.10,603.17v4.77M361.17,604.07v3.62M363.28,603.80v4.82M365.27,604.56v3.93M366.26,604.88v3.58M367.44,604.46v4.80M368.61,605.31v3.37M369.68,605.36v3.50M371.29,604.95v4.65M373.40,605.74v3.51M374.60,605.83v3.57M376.69,605.95v4.77M378.12,606.56v4.96M379.56,607.42v4.66M380.94,608.45v3.97M383.17,609.13v4.77M384.72,609.60v4.82M386.37,610.18v4.70M387.05,610.91v3.58M387.79,610.51v4.37M389.56,610.89v3.62M390.97,610.92v3.55M392.68,610.37v4.67M393.39,610.20v5.01M395.07,610.92v3.57M396.22,610.89v3.63M398.00,610.25v4.90M398.85,610.87v3.67M400.47,610.31v4.80M402.27,610.89v4.13M403.02,610.86v4.39M404.34,610.88v4.71M405.86,611.14v4.59M408.05,611.53v4.41M410.15,612.09v3.82M410.71,611.58v4.84M411.32,611.49v5.03M412.64,612.27v3.46M413.67,611.71v4.57M414.87,612.34v4.41M415.60,613.62v4.76M416.79,613.62v4.76M417.60,613.76v4.48M418.94,613.98v4.04M419.54,613.87v4.25M421.50,614.23v3.53M422.81,614.31v3.38M425.04,613.51v4.99M426.74,613.92v4.17M427.42,614.22v3.56M429.17,613.65v4.69M431.39,614.67v4.81M432.68,616.61v3.79M434.15,616.53v3.94M435.63,616.08v4.85M436.95,616.00v5.01M438.72,616.78v3.44" fill="none" stroke="#2f4d80" stroke-width="1"/>
<path d="M124.80,530.80H126.80V534.70H128.25V537.55H129.70V540.40H131.60V544.30H133.50V547.20H135.50V552.00H136.90V553.90H138.30V555.80H139.75V557.75H141.20V559.70H142.50V565.00H143.80V571.50H145.25V574.40H146.70V577.30H148.30V579.23H149.90V581.17H151.50V583.10H152.80V585.00H154.10V586.90H155.40V588.80H156.67V591.07H157.93V593.33H159.20V595.60H160.65V597.27H162.10V598.95H163.55V600.62H165.00V602.30H166.45V603.50H167.90V604.70H169.35V605.90H170.80V607.10H172.34V607.88H173.88V608.66H175.42V609.44H176.96V610.22H178.50V611.00H180.04V611.96H181.58V612.92H183.12V613.88H184.66V614.84H186.20V615.80H187.72V616.56H189.24V617.32H190.76V618.08H192.28V618.84H193.80V619.60H195.42V620.25H197.03V620.90H198.65V621.55H200.27V622.20H201.88V622.85H203.50V623.50H205.10V623.97H206.70V624.43H208.30V624.90H209.90V625.37H211.50V625.83H213.10V626.30H214.64V626.70H216.18V627.10H217.72V627.50H219.26V627.90H220.80V628.30H222.40V628.78H224.00V629.27H225.60V629.75H227.20V630.23H228.80V630.72H230.40V631.20H232.00V631.42H233.60V631.63H235.20V631.85H236.80V632.07H238.40V632.28H240.00V632.50H241.60V632.78H243.20V633.07H244.80V633.35H246.40V633.63H248.00V633.92H249.60V634.20H251.20V634.58H252.80V634.97H254.40V635.35H256.00V635.73H257.60V636.12H259.20V636.50H260.70V636.72H262.20V636.94H263.70V637.17H265.20V637.39H266.70V637.61H268.20V637.83H269.70V638.06H271.20V638.28H272.70V638.50H274.24V639.26H275.78V640.02H277.32V640.78H278.86V641.54H280.40V642.30H281.84V642.66H283.27V643.02H284.71V643.39H286.15V643.75H287.59V644.11H289.02V644.48H290.46V644.84H291.90V645.20H293.35V645.44H294.80V645.68H296.25V645.91H297.70V646.15H299.15V646.39H300.60V646.62H302.05V646.86H303.50V647.10H304.94V647.34H306.38V647.58H307.81V647.81H309.25V648.05H310.69V648.29H312.12V648.52H313.56V648.76H315.00V649.00H316.42V649.27H317.83V649.53H319.25V649.80H320.67V650.07H322.08V650.33H323.50V650.60H325.03V650.69H326.56V650.78H328.09V650.87H329.62V650.96H331.15V651.05H332.68V651.14H334.21V651.23H335.74V651.32H337.27V651.41H338.80V651.50H352.30H353.90V651.77H355.50V652.03H357.10V652.30H358.70V652.57H360.30V652.83H361.90V653.10H363.35V653.42H364.80V653.75H366.25V654.08H367.70V654.40H369.30V654.72H370.90V655.03H372.50V655.35H374.10V655.67H375.70V655.98H377.30V656.30H378.90V656.72H380.50V657.13H382.10V657.55H383.70V657.97H385.30V658.38H386.90V658.80H388.44V659.08H389.98V659.36H391.52V659.64H393.06V659.92H394.60V660.20H396.05V660.28H397.50V660.35H398.95V660.42H400.40V660.50H401.85V660.58H403.30V660.65H404.75V660.72H406.20V660.80H407.73V661.23H409.27V661.67H410.80V662.10H412.07V663.07H413.33V664.03H414.60V665.00H416.50V667.90H418.12V668.00H419.73V668.10H421.35V668.20H422.97V668.30H424.58V668.40H426.20V668.50H428.10V670.40H445.40H446.30V672.70H499.20" fill="none" stroke="#9e0015" stroke-width="1.6" stroke-linejoin="miter"/>
<path d="M124.80,530.80L126.80,534.70M126.80,534.70L129.70,540.40M129.70,540.40L131.60,544.30M131.60,544.30L133.50,547.20M133.50,547.20L135.50,552.00M135.50,552.00L138.30,555.80M138.30,555.80L141.20,559.70M141.20,559.70L142.50,565.00M142.50,565.00L143.80,571.50M143.80,571.50L146.70,577.30M146.70,577.30L151.50,583.10M151.50,583.10L155.40,588.80M155.40,588.80L159.20,595.60M159.20,595.60L165.00,602.30M165.00,602.30L170.80,607.10M170.80,607.10L178.50,611.00M178.50,611.00L186.20,615.80M186.20,615.80L193.80,619.60M193.80,619.60L203.50,623.50M203.50,623.50L213.10,626.30M213.10,626.30L220.80,628.30M220.80,628.30L230.40,631.20M230.40,631.20L240.00,632.50M240.00,632.50L249.60,634.20M249.60,634.20L259.20,636.50M259.20,636.50L272.70,638.50M272.70,638.50L280.40,642.30M280.40,642.30L291.90,645.20M291.90,645.20L303.50,647.10M303.50,647.10L315.00,649.00M315.00,649.00L323.50,650.60M323.50,650.60L338.80,651.50M352.30,651.50L361.90,653.10M361.90,653.10L367.70,654.40M367.70,654.40L377.30,656.30M377.30,656.30L386.90,658.80M386.90,658.80L394.60,660.20M394.60,660.20L406.20,660.80M406.20,660.80L410.80,662.10M410.80,662.10L414.60,665.00M414.60,665.00L416.50,667.90M416.50,667.90L426.20,668.50M426.20,668.50L428.10,670.40M445.40,670.40L446.30,672.70" fill="none" stroke="#9e0015" stroke-width="1.6" stroke-linecap="round"/>
<path d="M466.50,670.30v4.80M471.30,670.30v4.80M475.20,670.30v4.80M481.00,670.30v4.80M485.80,670.30v4.80M490.60,670.30v4.80M498.30,670.30v4.80M126.50,532.31v3.61M128.33,535.97v3.48M129.95,538.92v3.97M130.68,540.30v4.21M131.37,541.78v4.09M132.12,543.33v3.51M133.53,544.89v4.75M134.38,547.44v3.74M136.16,550.42v4.95M137.86,553.19v4.03M140.29,556.76v3.44M142.51,563.13v3.85M143.40,567.71v3.56M144.59,570.72v4.73M145.55,572.83v4.34M147.36,576.10v3.99M149.00,578.34v3.47M149.73,579.10v3.71M151.61,581.22v4.08M152.82,582.85v4.34M154.28,585.23v3.86M156.38,588.28v4.53M157.45,590.31v4.33M159.05,592.91v4.83M161.02,595.79v3.84M163.47,598.75v3.56M164.86,599.83v4.63M165.77,600.84v4.18M166.46,601.27v4.48M168.50,603.04v4.32M170.75,605.12v3.89M172.66,605.86v4.36M174.36,606.84v4.13M176.55,607.54v4.95M178.05,608.53v4.48M178.78,608.91v4.54M180.60,609.80v5.03M182.75,611.73v3.84M184.09,612.24v4.48M184.75,612.83v4.14M185.68,613.70v3.56M186.41,613.58v4.65M187.27,614.45v3.78M188.62,614.60v4.82M189.39,615.34v4.11M191.03,615.79v4.84M193.18,616.88v4.81M194.32,617.78v4.06M195.60,617.90v4.85M198.00,619.48v3.61M198.95,619.80v3.75M200.01,620.01v4.17M201.72,620.88v3.80M202.35,621.01v4.06M203.66,621.39v4.31M206.05,621.98v4.52M207.63,622.51v4.40M209.51,623.53v3.45M211.80,623.59v4.67M214.05,624.20v4.70M215.39,624.88v4.03M216.21,624.89v4.43M216.94,625.56v3.47M217.95,625.74v3.63M219.20,626.16v3.45M219.82,626.24v3.61M220.63,626.27v3.97M221.30,626.04v4.83M223.06,627.18v3.61M224.15,627.34v3.94M225.45,627.92v3.57M227.65,627.85v5.03M229.14,628.73v4.17M229.91,629.29v3.53M231.17,629.40v3.80M233.33,629.78v3.63M234.00,629.21v4.96M235.60,630.10v3.61M237.23,630.42v3.41M238.83,629.84v5.00M241.06,630.42v4.53M242.16,630.90v3.98M243.09,630.72v4.66M244.70,631.00v4.67M245.94,631.68v3.73M248.07,631.42v5.01M250.27,632.00v4.71M252.42,632.57v4.60M253.46,633.01v4.23M254.74,633.73v3.41M255.41,633.68v3.83M256.51,633.59v4.52M258.91,634.38v4.11M261.27,634.30v5.02M263.67,635.18v3.97M264.70,635.44v3.74M265.69,635.61v3.70M267.47,635.29v4.87M269.65,635.97v4.17M271.49,635.97v4.70M272.26,636.20v4.47M274.58,637.09v4.67M276.59,638.34v4.16M277.54,638.55v4.69M278.78,639.15v4.71M281.21,640.49v4.03M282.57,640.37v4.95M284.54,641.52v3.65M285.40,641.75v3.61M287.70,641.78v4.71M288.59,641.99v4.75M291.04,642.75v4.46M292.31,643.13v4.28M293.17,643.72v3.38M295.60,643.58v4.45M297.20,643.60v4.93M298.62,643.89v4.82M300.78,644.80v3.71M301.87,644.91v3.85M302.94,644.84v4.35M304.04,645.16v4.06M304.90,644.89v4.89M306.18,645.48v4.13M307.89,645.39v4.88M309.29,645.61v4.90M310.84,646.19v4.25M312.44,646.88v3.39M313.87,646.98v3.67M314.50,646.57v4.70M315.44,647.01v4.16M317.41,647.31v4.29M318.64,647.57v4.23M320.29,647.66v4.68M321.11,648.00v4.30M322.19,648.44v3.83M324.25,648.54v4.21M325.91,648.42v4.64M328.23,648.83v4.10M329.99,648.88v4.21M331.56,648.81v4.52M333.02,649.03v4.26M334.53,648.78v4.94M336.45,648.95v4.83M338.82,649.60v3.80M340.48,649.03v4.94M342.67,649.70v3.59M343.51,649.45v4.10M344.27,649.62v3.76M345.02,649.26v4.48M347.10,649.07v4.87M348.01,649.22v4.56M349.86,649.70v3.60M352.12,649.01v4.99M353.15,649.16v4.96M354.51,649.78v4.18M356.97,649.90v4.76M357.89,650.39v4.08M359.47,650.73v3.93M360.45,650.91v3.90M362.42,651.52v3.39M364.07,651.54v4.10M364.72,651.77v3.92M366.50,652.02v4.22M367.24,651.79v5.01M369.33,652.23v4.99M370.14,652.98v3.81M370.84,652.69v4.67M371.96,653.45v3.58M373.36,653.08v4.89M375.51,654.05v3.79M376.41,653.67v4.90M378.09,654.24v4.54M378.87,654.98v3.46M380.77,655.17v4.07M381.53,654.93v4.94M383.33,655.52v4.71M384.10,655.67v4.80M384.85,655.86v4.81M386.31,656.68v3.93M387.96,656.53v4.92M389.08,657.41v3.58M390.68,657.61v3.76M391.50,657.82v3.63M392.22,657.92v3.70M393.42,658.05v3.87M395.45,658.32v3.85M397.00,658.49v3.66M398.26,658.69v3.39M399.35,658.75v3.39M401.33,658.41v4.29M402.31,658.52v4.16M404.66,658.95v3.54M406.81,658.93v4.09M408.35,659.03v4.76M409.70,659.68v4.21M411.60,660.20v5.01M412.86,661.29v4.76M414.79,663.08v4.43M416.16,665.41v3.94M416.88,666.13v3.58M417.64,665.67v4.60M418.73,666.22v3.63M419.51,665.70v4.77M421.75,665.98v4.49M422.89,666.41v3.77M424.06,666.30v4.13M424.97,666.37v4.11M426.08,666.00v4.98M428.51,668.26v4.28M429.58,667.91v4.98M430.78,668.42v3.96M431.40,668.40v4.00M432.90,668.30v4.20M433.90,668.30v4.21M434.53,668.50v3.80M435.31,668.38v4.03M436.01,668.70v3.40M437.20,668.52v3.75M438.91,668.28v4.25M440.92,668.17v4.46M442.87,667.98v4.84M444.22,668.45v3.91M446.67,670.89v3.61M448.64,670.48v4.44M449.34,670.32v4.76M451.62,670.49v4.41M453.60,670.34v4.72M454.48,670.58v4.24M456.04,670.32v4.76M458.16,670.33v4.75M459.86,670.27v4.86M461.75,670.44v4.52" fill="none" stroke="#9e0015" stroke-width="1"/>
<path d="M124.60,525.40H499.70V782.80H124.60Z" stroke="#000" stroke-width="2" fill="none"/>
<text x="197.1" y="732.0" font-size="8.45" text-anchor="middle" font-weight="bold" fill="#000" stroke="#000" stroke-width="0.2">R-IPI Risk Group</text>
<text x="268.6" y="732.0" font-size="8.65" text-anchor="middle" font-weight="bold" fill="#000" stroke="#000" stroke-width="0.2">Events/Total</text>
<text x="328.7" y="732.0" font-size="8.55" text-anchor="middle" font-weight="bold" fill="#000" stroke="#000" stroke-width="0.2">Time-Point</text>
<text x="431.2" y="732.0" font-size="8.87" text-anchor="end" font-weight="bold" fill="#000" stroke="#000" stroke-width="0.2">KM Est (95% CI)</text>
<path d="M130.8,740.35H146.0" stroke="#5fa440" stroke-width="1.7"/>
<text x="197.1" y="742.6" font-size="8.75" text-anchor="middle" font-weight="normal" fill="#111" stroke="#111" stroke-width="0.2">Very Good (0)</text>
<text x="268.6" y="742.6" font-size="8.9" text-anchor="middle" font-weight="normal" fill="#111" stroke="#111" stroke-width="0.2">17/179</text>
<text x="328.7" y="742.6" font-size="8.25" text-anchor="middle" font-weight="normal" fill="#111" stroke="#111" stroke-width="0.2">5 Years</text>
<text x="431.2" y="742.6" font-size="8.6" text-anchor="end" font-weight="normal" fill="#111" stroke="#111" stroke-width="0.2">86.7 (79.8-94.3%)</text>
<path d="M130.8,750.95H146.0" stroke="#2f4d80" stroke-width="1.7"/>
<text x="197.1" y="753.2" font-size="8.75" text-anchor="middle" font-weight="normal" fill="#111" stroke="#111" stroke-width="0.2">Good (1-2)</text>
<text x="268.6" y="753.2" font-size="8.9" text-anchor="middle" font-weight="normal" fill="#111" stroke="#111" stroke-width="0.2">255/1019</text>
<text x="328.7" y="753.2" font-size="8.25" text-anchor="middle" font-weight="normal" fill="#111" stroke="#111" stroke-width="0.2">5 Years</text>
<text x="431.2" y="753.2" font-size="8.6" text-anchor="end" font-weight="normal" fill="#111" stroke="#111" stroke-width="0.2">73.6 (70.6-76.7%)</text>
<path d="M130.8,761.55H146.0" stroke="#9e0015" stroke-width="1.7"/>
<text x="197.1" y="763.8" font-size="8.75" text-anchor="middle" font-weight="normal" fill="#111" stroke="#111" stroke-width="0.2">Poor (3-5)</text>
<text x="268.6" y="763.8" font-size="8.9" text-anchor="middle" font-weight="normal" fill="#111" stroke="#111" stroke-width="0.2">436/907</text>
<text x="328.7" y="763.8" font-size="8.25" text-anchor="middle" font-weight="normal" fill="#111" stroke="#111" stroke-width="0.2">5 Years</text>
<text x="431.2" y="763.8" font-size="8.6" text-anchor="end" font-weight="normal" fill="#111" stroke="#111" stroke-width="0.2">52.5 (49.2-56.0%)</text>
<text x="150.0" y="774.4" font-size="8.56" text-anchor="start" font-weight="normal" fill="#111" stroke="#111" stroke-width="0.2">Logrank P-value: &lt;.0001</text>
<text x="431.2" y="774.4" font-size="8.46" text-anchor="end" font-weight="normal" fill="#111" stroke="#111" stroke-width="0.2">+ Censor</text>
<text x="109.6" y="867.6" font-size="8.8" text-anchor="end" font-weight="normal" fill="#111" stroke="#111" stroke-width="0.2">Very Good (0)</text>
<text x="124.6" y="867.6" font-size="9.0" text-anchor="middle" font-weight="normal" fill="#111" stroke="#111" stroke-width="0.2">179</text>
<text x="162.1" y="867.6" font-size="9.0" text-anchor="middle" font-weight="normal" fill="#111" stroke="#111" stroke-width="0.2">145</text>
<text x="199.6" y="867.6" font-size="9.0" text-anchor="middle" font-weight="normal" fill="#111" stroke="#111" stroke-width="0.2">93</text>
<text x="237.1" y="867.6" font-size="9.0" text-anchor="middle" font-weight="normal" fill="#111" stroke="#111" stroke-width="0.2">48</text>
<text x="274.6" y="867.6" font-size="9.0" text-anchor="middle" font-weight="normal" fill="#111" stroke="#111" stroke-width="0.2">25</text>
<text x="312.1" y="867.6" font-size="9.0" text-anchor="middle" font-weight="normal" fill="#111" stroke="#111" stroke-width="0.2">21</text>
<text x="349.7" y="867.6" font-size="9.0" text-anchor="middle" font-weight="normal" fill="#111" stroke="#111" stroke-width="0.2">17</text>
<text x="387.2" y="867.6" font-size="9.0" text-anchor="middle" font-weight="normal" fill="#111" stroke="#111" stroke-width="0.2">13</text>
<text x="424.7" y="867.6" font-size="9.0" text-anchor="middle" font-weight="normal" fill="#111" stroke="#111" stroke-width="0.2">4</text>
<text x="462.2" y="867.6" font-size="9.0" text-anchor="middle" font-weight="normal" fill="#111" stroke="#111" stroke-width="0.2">3</text>
<text x="499.7" y="867.6" font-size="9.0" text-anchor="middle" font-weight="normal" fill="#111" stroke="#111" stroke-width="0.2">0</text>
<text x="109.6" y="883.2" font-size="8.8" text-anchor="end" font-weight="normal" fill="#111" stroke="#111" stroke-width="0.2">Good (1-2)</text>
<text x="124.6" y="883.2" font-size="9.0" text-anchor="middle" font-weight="normal" fill="#111" stroke="#111" stroke-width="0.2">1019</text>
<text x="162.1" y="883.2" font-size="9.0" text-anchor="middle" font-weight="normal" fill="#111" stroke="#111" stroke-width="0.2">855</text>
<text x="199.6" y="883.2" font-size="9.0" text-anchor="middle" font-weight="normal" fill="#111" stroke="#111" stroke-width="0.2">699</text>
<text x="237.1" y="883.2" font-size="9.0" text-anchor="middle" font-weight="normal" fill="#111" stroke="#111" stroke-width="0.2">567</text>
<text x="274.6" y="883.2" font-size="9.0" text-anchor="middle" font-weight="normal" fill="#111" stroke="#111" stroke-width="0.2">461</text>
<text x="312.1" y="883.2" font-size="9.0" text-anchor="middle" font-weight="normal" fill="#111" stroke="#111" stroke-width="0.2">361</text>
<text x="349.7" y="883.2" font-size="9.0" text-anchor="middle" font-weight="normal" fill="#111" stroke="#111" stroke-width="0.2">244</text>
<text x="387.2" y="883.2" font-size="9.0" text-anchor="middle" font-weight="normal" fill="#111" stroke="#111" stroke-width="0.2">139</text>
<text x="424.7" y="883.2" font-size="9.0" text-anchor="middle" font-weight="normal" fill="#111" stroke="#111" stroke-width="0.2">69</text>
<text x="462.2" y="883.2" font-size="9.0" text-anchor="middle" font-weight="normal" fill="#111" stroke="#111" stroke-width="0.2">12</text>
<text x="499.7" y="883.2" font-size="9.0" text-anchor="middle" font-weight="normal" fill="#111" stroke="#111" stroke-width="0.2">4</text>
<text x="109.6" y="898.8" font-size="8.8" text-anchor="end" font-weight="normal" fill="#111" stroke="#111" stroke-width="0.2">Poor (3-5)</text>
<text x="124.6" y="898.8" font-size="9.0" text-anchor="middle" font-weight="normal" fill="#111" stroke="#111" stroke-width="0.2">907</text>
<text x="162.1" y="898.8" font-size="9.0" text-anchor="middle" font-weight="normal" fill="#111" stroke="#111" stroke-width="0.2">653</text>
<text x="199.6" y="898.8" font-size="9.0" text-anchor="middle" font-weight="normal" fill="#111" stroke="#111" stroke-width="0.2">551</text>
<text x="237.1" y="898.8" font-size="9.0" text-anchor="middle" font-weight="normal" fill="#111" stroke="#111" stroke-width="0.2">474</text>
<text x="274.6" y="898.8" font-size="9.0" text-anchor="middle" font-weight="normal" fill="#111" stroke="#111" stroke-width="0.2">388</text>
<text x="312.1" y="898.8" font-size="9.0" text-anchor="middle" font-weight="normal" fill="#111" stroke="#111" stroke-width="0.2">289</text>
<text x="349.7" y="898.8" font-size="9.0" text-anchor="middle" font-weight="normal" fill="#111" stroke="#111" stroke-width="0.2">196</text>
<text x="387.2" y="898.8" font-size="9.0" text-anchor="middle" font-weight="normal" fill="#111" stroke="#111" stroke-width="0.2">118</text>
<text x="424.7" y="898.8" font-size="9.0" text-anchor="middle" font-weight="normal" fill="#111" stroke="#111" stroke-width="0.2">59</text>
<text x="462.2" y="898.8" font-size="9.0" text-anchor="middle" font-weight="normal" fill="#111" stroke="#111" stroke-width="0.2">31</text>
<text x="499.7" y="898.8" font-size="9.0" text-anchor="middle" font-weight="normal" fill="#111" stroke="#111" stroke-width="0.2">15</text>
<text x="17.4" y="951.6" font-size="24" text-anchor="start" font-weight="bold" fill="#000" stroke="#000" stroke-width="0.2">C</text>
<text x="168.2" y="967.8" font-size="13.8" text-anchor="start" font-weight="normal" fill="#111" stroke="#111" stroke-width="0.2" textLength="263.5" lengthAdjust="spacingAndGlyphs">Progression Free Survival by NCCN-IPI</text>
<text transform="translate(84.1,1176.4) rotate(-90)" x="0" y="0" font-size="15.4" fill="#111" stroke="#111" stroke-width="0.3" textLength="147.1" lengthAdjust="spacingAndGlyphs">Progression free survival, %</text>
<text x="112.3" y="1226.2" font-size="11.1" text-anchor="end" font-weight="normal" fill="#111" stroke="#111" stroke-width="0.2">0</text>
<text x="112.3" y="1202.4" font-size="11.1" text-anchor="end" font-weight="normal" fill="#111" stroke="#111" stroke-width="0.2">10</text>
<text x="112.3" y="1178.5" font-size="11.1" text-anchor="end" font-weight="normal" fill="#111" stroke="#111" stroke-width="0.2">20</text>
<text x="112.3" y="1154.7" font-size="11.1" text-anchor="end" font-weight="normal" fill="#111" stroke="#111" stroke-width="0.2">30</text>
<text x="112.3" y="1130.8" font-size="11.1" text-anchor="end" font-weight="normal" fill="#111" stroke="#111" stroke-width="0.2">40</text>
<text x="112.3" y="1107.0" font-size="11.1" text-anchor="end" font-weight="normal" fill="#111" stroke="#111" stroke-width="0.2">50</text>
<text x="112.3" y="1083.1" font-size="11.1" text-anchor="end" font-weight="normal" fill="#111" stroke="#111" stroke-width="0.2">60</text>
<text x="112.3" y="1059.2" font-size="11.1" text-anchor="end" font-weight="normal" fill="#111" stroke="#111" stroke-width="0.2">70</text>
<text x="112.3" y="1035.4" font-size="11.1" text-anchor="end" font-weight="normal" fill="#111" stroke="#111" stroke-width="0.2">80</text>
<text x="112.3" y="1011.5" font-size="11.1" text-anchor="end" font-weight="normal" fill="#111" stroke="#111" stroke-width="0.2">90</text>
<text x="112.3" y="987.7" font-size="11.1" text-anchor="end" font-weight="normal" fill="#111" stroke="#111" stroke-width="0.2">100</text>
<text x="124.5" y="1249.2" font-size="11.1" text-anchor="middle" font-weight="normal" fill="#111" stroke="#111" stroke-width="0.2">0</text>
<text x="159.7" y="1249.2" font-size="11.1" text-anchor="middle" font-weight="normal" fill="#111" stroke="#111" stroke-width="0.2">1</text>
<text x="194.8" y="1249.2" font-size="11.1" text-anchor="middle" font-weight="normal" fill="#111" stroke="#111" stroke-width="0.2">2</text>
<text x="229.9" y="1249.2" font-size="11.1" text-anchor="middle" font-weight="normal" fill="#111" stroke="#111" stroke-width="0.2">3</text>
<text x="265.1" y="1249.2" font-size="11.1" text-anchor="middle" font-weight="normal" fill="#111" stroke="#111" stroke-width="0.2">4</text>
<text x="300.2" y="1249.2" font-size="11.1" text-anchor="middle" font-weight="normal" fill="#111" stroke="#111" stroke-width="0.2">5</text>
<text x="335.4" y="1249.2" font-size="11.1" text-anchor="middle" font-weight="normal" fill="#111" stroke="#111" stroke-width="0.2">6</text>
<text x="370.5" y="1249.2" font-size="11.1" text-anchor="middle" font-weight="normal" fill="#111" stroke="#111" stroke-width="0.2">7</text>
<text x="405.7" y="1249.2" font-size="11.1" text-anchor="middle" font-weight="normal" fill="#111" stroke="#111" stroke-width="0.2">8</text>
<text x="440.8" y="1249.2" font-size="11.1" text-anchor="middle" font-weight="normal" fill="#111" stroke="#111" stroke-width="0.2">9</text>
<text x="476.0" y="1249.2" font-size="11.1" text-anchor="middle" font-weight="normal" fill="#111" stroke="#111" stroke-width="0.2">10</text>
<path d="M118.30,1222.30H124.50M118.30,1198.45H124.50M118.30,1174.60H124.50M118.30,1150.75H124.50M118.30,1126.90H124.50M118.30,1103.05H124.50M118.30,1079.20H124.50M118.30,1055.35H124.50M118.30,1031.50H124.50M118.30,1007.65H124.50M118.30,983.80H124.50M124.50,1227.60V1233.90M159.65,1227.60V1233.90M194.80,1227.60V1233.90M229.95,1227.60V1233.90M265.10,1227.60V1233.90M300.25,1227.60V1233.90M335.40,1227.60V1233.90M370.55,1227.60V1233.90M405.70,1227.60V1233.90M440.85,1227.60V1233.90M476.00,1227.60V1233.90" stroke="#000" stroke-width="1.5" fill="none"/>
<text x="268.8" y="1271.1" font-size="15.2" text-anchor="start" font-weight="normal" fill="#111" stroke="#111" stroke-width="0.35" textLength="64.7" lengthAdjust="spacingAndGlyphs">Time (years)</text>
<text x="263.1" y="1296.2" font-size="9.5" text-anchor="start" font-weight="normal" fill="#111" stroke="#111" stroke-width="0.2" textLength="74.3" lengthAdjust="spacingAndGlyphs">Patients-at-Risk</text>
<path d="M125.20,983.70H126.58V983.73H127.95V983.75H129.32V983.77H130.70V983.80H131.60V984.30H132.90V984.80H134.20V985.30H135.50V985.80H136.40V987.70H138.30V989.60H139.75V991.05H141.20V992.50H142.80V993.47H144.40V994.43H146.00V995.40H147.60V996.03H149.20V996.67H150.80V997.30H152.10V997.63H153.40V997.97H154.70V998.30H156.15V999.25H157.60V1000.20H159.05V1001.65H160.50V1003.10H162.10V1003.27H163.70V1003.43H165.30V1003.60H166.98V1003.95H168.65V1004.30H170.32V1004.65H172.00V1005.00H173.70V1005.15H175.40V1005.30H177.13V1005.67H178.87V1006.03H180.60V1006.40H222.30H223.60V1007.80H224.90V1009.20H243.90H245.70V1012.60H256.90H257.80V1017.30H466.90" fill="none" stroke="#5fa440" stroke-width="1.6" stroke-linejoin="miter"/>
<path d="M130.70,983.80L131.60,984.30M131.60,984.30L135.50,985.80M135.50,985.80L136.40,987.70M136.40,987.70L138.30,989.60M138.30,989.60L141.20,992.50M141.20,992.50L146.00,995.40M146.00,995.40L150.80,997.30M150.80,997.30L154.70,998.30M154.70,998.30L157.60,1000.20M157.60,1000.20L160.50,1003.10M160.50,1003.10L165.30,1003.60M165.30,1003.60L172.00,1005.00M175.40,1005.30L180.60,1006.40M222.30,1006.40L224.90,1009.20M243.90,1009.20L245.70,1012.60M256.90,1012.60L257.80,1017.30" fill="none" stroke="#5fa440" stroke-width="1.6" stroke-linecap="round"/>
<path d="M264.70,1014.90v4.80M269.00,1014.90v4.80M273.40,1014.90v4.80M279.40,1014.90v4.80M286.30,1014.90v4.80M291.50,1014.90v4.80M293.50,1014.90v4.80M298.70,1014.90v4.80M312.50,1014.90v4.80M314.20,1014.90v4.80M334.10,1014.90v4.80M337.60,1014.90v4.80M341.90,1014.90v4.80M344.50,1014.90v4.80M348.80,1014.90v4.80M351.40,1014.90v4.80M354.00,1014.90v4.80M357.50,1014.90v4.80M360.10,1014.90v4.80M370.50,1014.90v4.80M376.50,1014.90v4.80M379.10,1014.90v4.80M381.10,1014.90v4.80M384.10,1014.90v4.80M399.20,1014.90v4.80M402.30,1014.90v4.80M409.30,1014.90v4.80M411.30,1014.90v4.80M417.40,1014.90v4.80M419.40,1014.90v4.80M421.40,1014.90v4.80M424.50,1014.90v4.80M440.60,1014.90v4.80M448.70,1014.90v4.80M465.90,1014.90v4.80M126.32,981.23v4.98M127.09,981.46v4.54M127.79,981.86v3.78M130.03,981.93v3.71M131.67,982.26v4.13M132.99,982.74v4.19M133.87,982.80v4.76M134.58,983.57v3.75M135.18,983.77v3.81M136.42,985.29v4.88M137.62,987.14v3.55M138.61,987.40v5.03M139.28,988.38v4.40M140.47,989.54v4.47M141.60,990.48v4.52M143.00,991.36v4.45M145.07,992.67v4.34M145.87,993.59v3.47M148.02,994.11v4.18M148.91,994.08v4.95M150.44,994.86v4.58M152.48,995.81v3.84M153.64,995.61v4.84M154.42,995.91v4.64M155.15,996.33v4.52M156.89,997.26v4.96M158.87,999.36v4.21M159.76,1000.55v3.61M161.21,1001.07v4.22M161.89,1000.81v4.88M163.30,1001.12v4.54M164.23,1001.60v3.77M164.81,1001.58v3.94M165.82,1001.67v4.07M167.01,1001.58v4.76M169.07,1002.56v3.65M170.29,1002.82v3.64M171.97,1002.49v5.00M172.87,1002.75v4.65M173.93,1003.48v3.38M175.77,1003.41v3.93M176.62,1003.51v4.09M177.57,1003.73v4.05M178.88,1004.00v4.06M180.43,1004.44v3.85M181.15,1004.65v3.50M181.89,1004.28v4.24M183.05,1004.04v4.72M184.46,1004.13v4.55M186.67,1004.67v3.47M187.25,1004.60v3.60M188.46,1004.24v4.32M190.27,1004.42v3.95M192.45,1004.72v3.36M194.42,1004.54v3.71M196.45,1004.69v3.42M198.63,1004.08v4.64M200.85,1004.23v4.33M201.71,1003.91v4.99M203.01,1004.65v3.50M204.59,1004.30v4.20M205.95,1004.59v3.62M206.71,1004.23v4.34M208.03,1004.61v3.57M209.33,1004.11v4.58M211.09,1004.32v4.15M212.31,1004.42v3.97M213.25,1004.55v3.69M214.56,1004.63v3.54M216.34,1004.13v4.55M217.93,1004.70v3.40M219.10,1004.36v4.09M219.82,1003.91v4.99M221.65,1004.30v4.20M223.39,1005.73v3.70M224.34,1006.47v4.24M226.15,1006.98v4.45M226.72,1007.00v4.39M228.80,1006.90v4.61M230.92,1006.70v5.01M231.86,1007.27v3.86M233.34,1006.70v5.00M234.52,1006.73v4.94M236.51,1007.09v4.23M238.12,1006.72v4.97M239.99,1007.27v3.86M241.97,1007.36v3.69M243.15,1006.71v4.97M245.14,1009.60v3.88M246.19,1010.41v4.39M248.16,1010.35v4.51M250.29,1010.31v4.58M252.23,1010.41v4.38M253.40,1010.56v4.08M254.78,1010.48v4.25M256.75,1010.69v3.81M257.43,1013.06v4.59" fill="none" stroke="#5fa440" stroke-width="1"/>
<path d="M125.20,983.70H126.50V984.00H127.80V984.30H129.07V985.10H130.33V985.90H131.60V986.70H132.90V987.50H134.20V988.30H135.50V989.10H136.90V990.80H138.30V992.50H139.93V994.10H141.57V995.70H143.20V997.30H144.47V998.60H145.73V999.90H147.00V1001.20H148.27V1002.00H149.53V1002.80H150.80V1003.60H152.43V1004.70H154.07V1005.80H155.70V1006.90H157.30V1007.53H158.90V1008.17H160.50V1008.80H162.10V1009.47H163.70V1010.13H165.30V1010.80H166.98V1011.52H168.65V1012.25H170.32V1012.98H172.00V1013.70H173.36V1014.00H174.72V1014.30H176.08V1014.60H177.44V1014.90H178.80V1015.20H180.20V1015.72H181.60V1016.24H183.00V1016.76H184.40V1017.28H185.80V1017.80H187.18V1018.32H188.56V1018.84H189.94V1019.36H191.32V1019.88H192.70V1020.40H194.08V1020.74H195.46V1021.08H196.84V1021.42H198.22V1021.76H199.60V1022.10H201.09V1022.36H202.57V1022.61H204.06V1022.87H205.54V1023.13H207.03V1023.39H208.51V1023.64H210.00V1023.90H211.85V1024.50H213.70V1025.10H215.21V1025.31H216.72V1025.52H218.24V1025.74H219.75V1025.95H221.26V1026.16H222.78V1026.38H224.29V1026.59H225.80V1026.80H227.23V1027.32H228.67V1027.83H230.10V1028.35H231.53V1028.87H232.97V1029.38H234.40V1029.90H235.85V1030.25H237.30V1030.60H238.75V1030.95H240.20V1031.30H241.65V1031.65H243.10V1032.00H244.53V1032.37H245.97V1032.73H247.40V1033.10H248.83V1033.47H250.27V1033.83H251.70V1034.20H253.43V1035.07H255.17V1035.93H256.90V1036.80H258.28V1037.22H259.66V1037.64H261.04V1038.06H262.42V1038.48H263.80V1038.90H265.29V1039.10H266.77V1039.30H268.26V1039.50H269.74V1039.70H271.23V1039.90H272.71V1040.10H274.20V1040.30H275.65V1040.53H277.10V1040.77H278.55V1041.00H280.00V1041.23H281.45V1041.47H282.90V1041.70H284.41V1041.85H285.92V1042.00H287.44V1042.15H288.95V1042.30H290.46V1042.45H291.98V1042.60H293.49V1042.75H295.00V1042.90H296.46V1042.99H297.92V1043.08H299.38V1043.18H300.83V1043.27H302.29V1043.36H303.75V1043.45H305.21V1043.54H306.67V1043.63H308.12V1043.72H309.58V1043.82H311.04V1043.91H312.50V1044.00H314.01V1044.21H315.52V1044.42H317.04V1044.64H318.55V1044.85H320.06V1045.06H321.58V1045.28H323.09V1045.49H324.60V1045.70H326.05V1046.22H327.50V1046.73H328.95V1047.25H330.40V1047.77H331.85V1048.28H333.30V1048.80H334.81V1049.06H336.32V1049.33H337.84V1049.59H339.35V1049.85H340.86V1050.11H342.38V1050.38H343.89V1050.64H345.40V1050.90H346.89V1051.16H348.37V1051.41H349.86V1051.67H351.34V1051.93H352.83V1052.19H354.31V1052.44H355.80V1052.70H357.23V1053.07H358.67V1053.43H360.10V1053.80H361.53V1054.17H362.97V1054.53H364.40V1054.90H366.13V1055.87H367.87V1056.83H369.60V1057.80H370.95V1057.97H372.30V1058.15H373.65V1058.33H375.00V1058.50H376.44V1058.59H377.89V1058.67H379.33V1058.76H380.77V1058.84H382.21V1058.93H383.66V1059.01H385.10V1059.10H387.10V1060.30H388.72V1060.38H390.34V1060.46H391.96V1060.54H393.58V1060.62H395.20V1060.70H397.20V1061.90H454.00V1084.50H475.00" fill="none" stroke="#2f4d80" stroke-width="1.6" stroke-linejoin="miter"/>
<path d="M125.20,983.70L127.80,984.30M127.80,984.30L131.60,986.70M131.60,986.70L135.50,989.10M135.50,989.10L138.30,992.50M138.30,992.50L143.20,997.30M143.20,997.30L147.00,1001.20M147.00,1001.20L150.80,1003.60M150.80,1003.60L155.70,1006.90M155.70,1006.90L160.50,1008.80M160.50,1008.80L165.30,1010.80M165.30,1010.80L172.00,1013.70M172.00,1013.70L178.80,1015.20M178.80,1015.20L185.80,1017.80M185.80,1017.80L192.70,1020.40M192.70,1020.40L199.60,1022.10M199.60,1022.10L210.00,1023.90M210.00,1023.90L213.70,1025.10M213.70,1025.10L225.80,1026.80M225.80,1026.80L234.40,1029.90M234.40,1029.90L243.10,1032.00M243.10,1032.00L251.70,1034.20M251.70,1034.20L256.90,1036.80M256.90,1036.80L263.80,1038.90M263.80,1038.90L274.20,1040.30M274.20,1040.30L282.90,1041.70M282.90,1041.70L295.00,1042.90M295.00,1042.90L312.50,1044.00M312.50,1044.00L324.60,1045.70M324.60,1045.70L333.30,1048.80M333.30,1048.80L345.40,1050.90M345.40,1050.90L355.80,1052.70M355.80,1052.70L364.40,1054.90M364.40,1054.90L369.60,1057.80M369.60,1057.80L375.00,1058.50M375.00,1058.50L385.10,1059.10M385.10,1059.10L387.10,1060.30M387.10,1060.30L395.20,1060.70M395.20,1060.70L397.20,1061.90" fill="none" stroke="#2f4d80" stroke-width="1.6" stroke-linecap="round"/>
<path d="M445.00,1059.50v4.80M450.00,1059.50v4.80M458.80,1082.10v4.80M466.90,1082.10v4.80M126.65,982.04v3.99M127.44,981.81v4.82M128.01,982.33v4.20M130.08,983.99v3.50M131.57,984.48v4.40M132.20,985.07v4.00M133.94,986.08v4.12M135.72,987.56v3.62M136.68,988.76v3.55M138.09,989.79v4.91M139.64,991.49v4.66M140.85,992.69v4.61M141.58,993.79v3.85M143.27,995.08v4.58M144.54,996.92v3.51M145.55,997.85v3.71M146.58,998.41v4.72M147.48,999.08v4.85M149.51,1001.06v3.45M150.71,1001.45v4.19M151.31,1001.91v4.07M153.39,1003.57v3.55M154.95,1004.62v3.56M156.49,1004.78v4.86M157.39,1005.88v3.37M158.09,1005.71v4.27M158.68,1006.33v3.50M160.07,1006.18v4.91M161.34,1007.13v4.03M162.97,1008.07v3.52M164.50,1008.64v3.65M166.09,1008.66v4.97M166.74,1009.28v4.29M168.32,1010.30v3.61M169.33,1010.03v5.03M171.56,1011.73v3.56M173.31,1011.51v4.96M174.27,1012.01v4.39M174.90,1012.35v3.97M176.59,1012.54v4.35M178.45,1013.37v3.51M179.60,1013.09v4.81M181.14,1014.01v4.12M182.37,1014.02v5.02M183.90,1015.40v3.39M185.80,1015.84v3.91M187.09,1016.43v3.72M188.40,1016.83v3.91M189.11,1016.84v4.42M189.84,1016.98v4.68M190.44,1017.21v4.67M192.36,1018.17v4.20M194.11,1018.86v3.78M195.91,1019.15v4.07M196.86,1018.93v4.98M198.09,1019.73v3.99M200.10,1020.20v3.98M201.78,1020.65v3.65M203.75,1020.92v3.79M204.40,1020.43v5.00M205.25,1020.60v4.95M207.47,1021.27v4.38M208.05,1021.83v3.46M208.96,1021.71v4.01M210.54,1021.58v4.98M211.70,1022.65v3.60M213.20,1023.14v3.59M213.91,1022.98v4.29M215.64,1023.64v3.47M216.96,1023.29v4.54M218.80,1023.81v4.00M220.85,1024.28v3.64M222.61,1024.02v4.66M224.65,1024.54v4.19M225.38,1025.02v3.44M226.83,1025.34v3.65M228.44,1026.00v3.50M230.31,1026.56v3.73M230.90,1026.81v3.66M232.22,1026.97v4.30M233.44,1027.73v3.65M234.81,1027.52v4.95M236.27,1027.88v4.94M236.87,1027.98v5.03M238.93,1028.86v4.27M240.37,1029.21v4.26M242.45,1030.11v3.47M244.09,1030.12v4.27M245.16,1030.24v4.58M246.93,1031.21v3.53M248.66,1031.36v4.12M250.05,1031.56v4.43M250.70,1031.76v4.37M251.88,1031.87v4.84M252.83,1032.39v4.74M254.62,1033.45v4.41M256.65,1034.96v3.42M258.21,1035.00v4.39M259.91,1035.70v4.04M260.59,1036.08v3.68M262.17,1036.57v3.66M262.84,1036.63v3.96M264.19,1036.82v4.26M264.79,1036.70v4.66M265.91,1036.85v4.68M266.49,1036.78v4.96M268.04,1036.97v5.00M270.26,1037.39v4.76M270.99,1037.90v3.95M271.94,1037.66v4.67M272.83,1038.25v3.73M273.57,1038.43v3.56M275.71,1038.04v5.00M276.89,1038.43v4.60M278.24,1038.83v4.24M279.42,1038.93v4.43M280.38,1039.40v3.79M281.81,1039.68v3.69M283.10,1039.25v4.95M283.70,1040.01v3.53M285.61,1040.24v3.46M286.59,1039.67v4.79M288.16,1040.36v3.73M288.82,1040.38v3.82M289.89,1040.04v4.70M292.09,1040.27v4.68M294.16,1040.35v4.92M296.19,1040.52v4.91M298.38,1041.35v3.52M299.47,1041.29v3.78M301.05,1041.19v4.19M302.19,1040.97v4.77M303.42,1041.57v3.71M304.45,1041.43v4.14M306.03,1041.44v4.31M307.33,1041.84v3.67M308.57,1041.80v3.91M309.41,1041.67v4.27M310.29,1041.58v4.56M311.96,1042.17v3.59M313.57,1042.19v3.93M314.88,1042.14v4.38M316.72,1042.17v4.84M318.51,1042.99v3.71M319.98,1043.09v3.92M320.57,1042.99v4.29M321.92,1042.92v4.82M323.03,1043.10v4.76M324.45,1043.92v3.53M326.21,1044.36v3.84M327.67,1045.05v3.48M328.25,1044.55v4.91M328.88,1045.42v3.61M329.71,1045.76v3.52M331.66,1045.70v5.03M333.31,1046.79v4.02M335.36,1047.05v4.21M336.15,1047.03v4.52M337.31,1047.59v3.81M338.41,1047.68v4.01M339.28,1047.64v4.39M341.29,1048.03v4.32M341.87,1048.03v4.51M342.46,1048.31v4.16M344.48,1048.49v4.50M346.56,1048.79v4.63M347.58,1049.48v3.60M348.90,1049.25v4.50M349.85,1049.71v3.92M351.67,1050.01v3.94M353.24,1050.12v4.28M355.36,1050.92v3.40M356.23,1050.48v4.67M357.92,1051.48v3.52M358.70,1051.59v3.71M360.17,1051.38v4.88M361.10,1052.20v3.70M362.81,1052.46v4.07M364.79,1052.60v5.04M366.93,1054.03v4.56M368.32,1055.35v3.46M370.24,1055.87v4.03M371.58,1055.85v4.42M373.75,1056.19v4.29M375.86,1056.06v4.98M376.56,1056.61v3.96M378.61,1056.39v4.65M380.80,1057.01v3.67M382.25,1056.47v4.93M383.72,1056.77v4.49M385.92,1057.76v3.65M386.57,1057.59v4.79M388.11,1058.50v3.70M390.07,1058.53v3.84M390.84,1058.55v3.86M391.47,1058.49v4.04M393.34,1058.55v4.12M395.52,1059.17v3.43M396.37,1059.60v3.60M397.89,1060.05v3.70M399.57,1059.78v4.24M401.11,1059.51v4.78M403.00,1059.45v4.91M403.81,1059.90v4.00M405.98,1059.89v4.03M407.02,1059.82v4.17M407.89,1059.51v4.79M409.52,1060.14v3.52M411.70,1059.78v4.23M412.68,1059.71v4.39M414.84,1059.93v3.94M415.42,1060.05v3.69M416.08,1059.78v4.25M417.16,1059.50v4.79M418.07,1060.21v3.39M419.41,1060.12v3.57M420.49,1060.03v3.74M421.35,1059.69v4.43M423.48,1059.91v3.98M425.12,1059.95v3.90M427.21,1059.76v4.29M427.82,1059.60v4.61M428.74,1060.18v3.44M429.33,1059.51v4.77M431.08,1059.92v3.96M432.58,1059.63v4.55M433.26,1059.63v4.55M435.02,1059.43v4.94M435.67,1059.74v4.32M437.09,1059.51v4.78M438.26,1059.66v4.47" fill="none" stroke="#2f4d80" stroke-width="1"/>
<path d="M125.20,983.70H126.80V986.70H128.70V989.60H130.15V991.05H131.60V992.50H133.05V994.90H134.50V997.30H135.95V999.70H137.40V1002.10H138.85V1005.00H140.30V1007.90H141.50V1010.80H142.70V1013.70H143.90V1016.10H145.10V1018.50H146.40V1020.75H147.70V1023.00H149.13V1025.30H150.57V1027.60H152.00V1029.90H153.43V1032.50H154.87V1035.10H156.30V1037.70H158.03V1039.73H159.77V1041.77H161.50V1043.80H162.97V1045.23H164.43V1046.67H165.90V1048.10H167.40V1049.62H168.90V1051.15H170.40V1052.67H171.90V1054.20H173.28V1055.22H174.66V1056.24H176.04V1057.26H177.42V1058.28H178.80V1059.30H180.20V1060.34H181.60V1061.38H183.00V1062.42H184.40V1063.46H185.80V1064.50H187.18V1065.02H188.56V1065.54H189.94V1066.06H191.32V1066.58H192.70V1067.10H194.13V1067.40H195.57V1067.70H197.00V1068.00H198.43V1068.30H199.87V1068.60H201.30V1068.90H202.75V1069.33H204.20V1069.77H205.65V1070.20H207.10V1070.63H208.55V1071.07H210.00V1071.50H211.35V1071.70H212.70V1071.90H214.05V1072.10H215.40V1072.30H216.83V1072.80H218.27V1073.30H219.70V1073.80H221.13V1074.30H222.57V1074.80H224.00V1075.30H225.49V1075.44H226.97V1075.59H228.46V1075.73H229.94V1075.87H231.43V1076.01H232.91V1076.16H234.40V1076.30H235.85V1076.50H237.30V1076.70H238.75V1076.90H240.20V1077.10H241.65V1077.30H243.10V1077.50H244.53V1077.93H245.97V1078.37H247.40V1078.80H248.83V1079.23H250.27V1079.67H251.70V1080.10H253.15V1080.38H254.60V1080.67H256.05V1080.95H257.50V1081.23H258.95V1081.52H260.40V1081.80H262.13V1082.10H263.87V1082.40H265.60V1082.70H267.03V1083.18H268.47V1083.67H269.90V1084.15H271.33V1084.63H272.77V1085.12H274.20V1085.60H275.65V1086.07H277.10V1086.53H278.55V1087.00H280.00V1087.47H281.45V1087.93H282.90V1088.40H284.41V1088.70H285.92V1089.00H287.44V1089.30H288.95V1089.60H290.46V1089.90H291.98V1090.20H293.49V1090.50H295.00V1090.80H296.85V1091.45H298.70V1092.10H300.13V1092.33H301.57V1092.57H303.00V1092.80H304.43V1093.03H305.87V1093.27H307.30V1093.50H308.75V1093.62H310.20V1093.73H311.65V1093.85H313.10V1093.97H314.55V1094.08H316.00V1094.20H317.43V1094.57H318.87V1094.93H320.30V1095.30H321.73V1095.67H323.17V1096.03H324.60V1096.40H341.90H343.28V1096.86H344.66V1097.32H346.04V1097.78H347.42V1098.24H348.80V1098.70H350.20V1099.12H351.60V1099.54H353.00V1099.96H354.40V1100.38H355.80V1100.80H364.40H365.85V1101.23H367.30V1101.67H368.75V1102.10H370.20V1102.53H371.65V1102.97H373.10V1103.40H374.48V1103.56H375.86V1103.72H377.24V1103.88H378.62V1104.04H380.00V1104.20H381.60V1104.33H383.20V1104.46H384.80V1104.59H386.40V1104.71H388.00V1104.84H389.60V1104.97H391.20V1105.10H392.70V1106.10H394.20V1107.10H396.20V1111.20H397.71V1111.30H399.22V1111.40H400.73V1111.50H402.24V1111.60H403.75V1111.70H405.26V1111.80H406.77V1111.90H408.28V1112.00H409.79V1112.10H411.30V1112.20H412.40V1114.80H470.40V1122.90H475.00" fill="none" stroke="#da8200" stroke-width="1.6" stroke-linejoin="miter"/>
<path d="M125.20,983.70L126.80,986.70M126.80,986.70L128.70,989.60M128.70,989.60L131.60,992.50M131.60,992.50L134.50,997.30M134.50,997.30L137.40,1002.10M137.40,1002.10L140.30,1007.90M140.30,1007.90L142.70,1013.70M142.70,1013.70L145.10,1018.50M145.10,1018.50L147.70,1023.00M147.70,1023.00L152.00,1029.90M152.00,1029.90L156.30,1037.70M156.30,1037.70L161.50,1043.80M161.50,1043.80L165.90,1048.10M165.90,1048.10L171.90,1054.20M171.90,1054.20L178.80,1059.30M178.80,1059.30L185.80,1064.50M185.80,1064.50L192.70,1067.10M192.70,1067.10L201.30,1068.90M201.30,1068.90L210.00,1071.50M210.00,1071.50L215.40,1072.30M215.40,1072.30L224.00,1075.30M224.00,1075.30L234.40,1076.30M234.40,1076.30L243.10,1077.50M243.10,1077.50L251.70,1080.10M251.70,1080.10L260.40,1081.80M260.40,1081.80L265.60,1082.70M265.60,1082.70L274.20,1085.60M274.20,1085.60L282.90,1088.40M282.90,1088.40L295.00,1090.80M295.00,1090.80L298.70,1092.10M298.70,1092.10L307.30,1093.50M307.30,1093.50L316.00,1094.20M316.00,1094.20L324.60,1096.40M341.90,1096.40L348.80,1098.70M348.80,1098.70L355.80,1100.80M364.40,1100.80L373.10,1103.40M373.10,1103.40L380.00,1104.20M380.00,1104.20L391.20,1105.10M391.20,1105.10L394.20,1107.10M394.20,1107.10L396.20,1111.20M396.20,1111.20L411.30,1112.20M411.30,1112.20L412.40,1114.80" fill="none" stroke="#da8200" stroke-width="1.6" stroke-linecap="round"/>
<path d="M474.00,1120.50v4.80M126.89,984.79v4.08M128.58,987.57v3.71M130.71,989.24v4.74M132.55,992.26v3.63M134.14,994.74v3.91M135.22,996.02v4.96M137.70,1000.97v3.43M139.92,1004.95v4.37M141.25,1008.27v3.84M143.12,1012.48v4.13M145.02,1016.10v4.47M145.88,1017.53v4.65M148.33,1021.52v4.99M150.09,1025.12v3.43M150.72,1026.05v3.59M153.09,1029.94v3.87M154.39,1031.80v4.87M155.60,1034.28v4.28M157.03,1036.82v3.47M158.73,1038.17v4.78M159.65,1039.76v3.74M161.03,1041.54v3.42M162.58,1042.49v4.73M164.42,1044.53v4.26M166.63,1047.04v3.61M168.31,1048.55v3.99M170.04,1050.54v3.55M172.11,1052.59v3.52M173.04,1052.68v4.72M175.42,1054.76v4.09M176.81,1055.94v3.77M177.94,1056.47v4.40M178.89,1057.59v3.56M180.36,1058.64v3.64M182.19,1059.45v4.74M184.25,1061.27v4.17M185.52,1062.25v4.09M186.15,1062.35v4.56M187.39,1063.15v3.90M188.15,1063.33v4.11M189.86,1064.02v4.02M192.10,1064.63v4.49M193.16,1065.08v4.24M195.48,1065.56v4.23M197.22,1066.31v3.47M198.75,1066.30v4.14M200.11,1066.62v4.07M201.82,1066.92v4.26M203.35,1067.69v3.64M204.79,1067.45v4.99M206.19,1068.65v3.42M206.81,1068.42v4.26M207.53,1069.00v3.52M208.35,1068.94v4.12M210.81,1069.53v4.17M212.29,1069.79v4.09M213.84,1070.01v4.11M215.81,1070.01v4.87M217.73,1071.08v4.07M219.56,1071.31v4.89M220.46,1072.19v3.76M222.23,1072.43v4.51M224.05,1073.13v4.35M226.21,1073.43v4.16M228.33,1073.23v4.98M229.76,1073.45v4.80M231.72,1073.62v4.85M232.43,1073.66v4.89M234.47,1073.82v4.98M236.92,1074.73v3.84M238.78,1075.11v3.60M240.51,1074.69v4.90M241.49,1075.30v3.95M242.26,1075.54v3.69M243.26,1075.79v3.52M245.74,1075.87v4.85M247.22,1076.44v4.61M249.14,1077.21v4.24M250.55,1077.51v4.48M252.20,1078.29v3.81M253.50,1078.24v4.41M255.28,1078.94v3.71M257.04,1078.73v4.83M259.28,1079.35v4.46M260.03,1079.69v4.07M260.81,1080.15v3.45M261.91,1080.00v4.13M263.94,1080.20v4.42M265.09,1080.35v4.53M266.65,1080.95v4.21M267.76,1081.38v4.10M269.01,1081.56v4.58M270.53,1082.31v4.11M272.04,1082.79v4.17M273.94,1083.23v4.57M276.05,1084.18v4.04M278.15,1084.38v4.98M280.61,1085.38v4.57M281.35,1085.51v4.78M283.53,1086.83v3.39M284.76,1086.82v3.90M286.76,1086.97v4.39M287.90,1087.56v3.67M288.84,1087.82v3.52M290.93,1087.53v4.93M291.95,1087.89v4.61M294.34,1088.83v3.68M296.03,1089.11v4.10M298.46,1089.61v4.82M299.11,1090.32v3.70M301.31,1090.36v4.32M302.90,1090.42v4.72M304.94,1090.63v4.96M306.17,1091.60v3.44M308.08,1091.84v3.44M309.75,1091.29v4.80M311.11,1091.62v4.37M312.05,1092.07v3.62M313.79,1091.62v4.81M316.27,1092.56v3.41M318.61,1092.76v4.22M319.87,1093.18v4.03M321.57,1093.65v3.94M322.46,1093.45v4.81M324.39,1094.16v4.38M326.36,1093.89v5.02M327.30,1094.03v4.74M329.45,1094.43v3.94M331.11,1094.33v4.13M332.09,1094.36v4.09M333.00,1093.94v4.93M333.97,1094.19v4.42M335.65,1093.90v5.00M337.74,1094.42v3.97M339.06,1094.68v3.44M339.78,1094.46v3.88M342.17,1094.77v3.44M343.11,1094.59v4.43M344.41,1095.40v3.67M346.79,1096.31v3.43M348.52,1096.57v4.08M349.78,1097.15v3.69M350.70,1097.25v4.04M352.72,1097.80v4.15M354.79,1098.08v4.84M355.73,1098.36v4.84M357.43,1098.77v4.07M359.01,1098.37v4.86M360.36,1099.04v3.52M362.76,1099.02v3.56M363.58,1098.51v4.57M364.78,1098.99v3.85M366.61,1099.03v4.86M367.87,1099.39v4.88M369.64,1100.18v4.38M371.25,1101.16v3.38M372.17,1100.87v4.50M374.08,1101.75v3.52M375.88,1101.64v4.16M377.57,1101.90v4.03M378.60,1102.06v3.96M381.02,1102.44v3.68M383.25,1102.33v4.25M384.01,1102.16v4.72M384.66,1102.19v4.77M385.91,1102.22v4.90M387.88,1102.85v3.96M389.66,1102.47v5.02M390.60,1103.20v3.71M391.76,1103.10v4.74M392.84,1104.30v3.77M394.60,1105.75v4.34M396.00,1108.65v4.29M396.68,1109.55v3.37M397.35,1109.55v3.45M399.40,1108.91v5.00M400.25,1109.46v4.01M400.90,1109.47v4.09M402.75,1109.43v4.41M405.05,1109.64v4.29M405.77,1109.84v3.99M407.24,1109.97v3.92M407.93,1109.77v4.41M409.46,1109.80v4.55M410.75,1110.42v3.48M411.87,1111.71v3.66M413.34,1112.99v3.62M414.11,1112.68v4.24M414.99,1113.03v3.54M415.84,1112.53v4.55M417.96,1112.44v4.72M419.65,1112.59v4.43M421.67,1112.76v4.08M423.24,1112.52v4.56M425.04,1112.61v4.38M426.86,1112.67v4.26M427.88,1112.86v3.87M429.78,1112.77v4.06M432.00,1112.81v3.99M433.86,1113.02v3.55M435.04,1112.41v4.79M435.99,1112.59v4.41M436.66,1112.61v4.38M438.12,1112.36v4.87M440.27,1112.47v4.66M441.52,1112.56v4.48M442.43,1112.71v4.18M443.78,1112.73v4.15M444.91,1112.94v3.72M446.49,1112.57v4.46M448.16,1112.32v4.96M449.81,1112.99v3.61M451.63,1112.85v3.89M453.99,1113.01v3.58M455.46,1112.55v4.49M457.89,1112.68v4.24M459.21,1112.47v4.66M461.30,1112.35v4.89M463.26,1113.01v3.57M465.72,1112.34v4.92M467.15,1112.57v4.47M469.33,1112.35v4.90" fill="none" stroke="#da8200" stroke-width="1"/>
<path d="M125.20,983.70H125.80V989.60H127.80V997.30H129.70V1004.00H131.60V1009.80H133.50V1013.70H134.70V1016.55H135.90V1019.40H137.30V1026.50H139.05V1029.10H140.80V1031.70H142.10V1036.00H143.40V1040.30H144.70V1045.50H146.00V1050.70H147.70V1054.15H149.40V1057.60H150.83V1059.90H152.27V1062.20H153.70V1064.50H155.00V1068.00H156.30V1071.50H157.77V1073.20H159.23V1074.90H160.70V1076.60H162.13V1078.93H163.57V1081.27H165.00V1083.60H166.75V1085.30H168.50V1087.00H169.88V1087.36H171.26V1087.72H172.64V1088.08H174.02V1088.44H175.40V1088.80H176.83V1088.93H178.27V1089.07H179.70V1089.20H181.13V1089.33H182.57V1089.47H184.00V1089.60H185.73V1090.47H187.47V1091.33H189.20V1092.20H190.93V1093.37H192.67V1094.53H194.40V1095.70H195.78V1096.04H197.16V1096.38H198.54V1096.72H199.92V1097.06H201.30V1097.40H202.75V1097.83H204.20V1098.27H205.65V1098.70H207.10V1099.13H208.55V1099.57H210.00V1100.00H211.35V1100.58H212.70V1101.15H214.05V1101.72H215.40V1102.30H217.13V1102.70H218.87V1103.10H220.60V1103.50H222.11V1103.56H223.62V1103.62H225.14V1103.69H226.65V1103.75H228.16V1103.81H229.67V1103.88H231.19V1103.94H232.70V1104.00H234.45V1106.75H236.20V1109.50H237.67V1109.76H239.14V1110.01H240.61V1110.27H242.09V1110.53H243.56V1110.79H245.03V1111.04H246.50V1111.30H265.60H267.30V1113.45H269.00V1115.60H270.49V1115.73H271.97V1115.86H273.46V1115.99H274.94V1116.11H276.43V1116.24H277.91V1116.37H279.40V1116.50H280.85V1116.63H282.30V1116.77H283.75V1116.90H285.20V1117.03H286.65V1117.17H288.10V1117.30H289.80V1118.60H291.50V1119.90H293.35V1120.10H295.20V1120.30H296.71V1120.56H298.23V1120.83H299.74V1121.09H301.25V1121.35H302.76V1121.61H304.27V1121.88H305.79V1122.14H307.30V1122.40H308.68V1122.98H310.06V1123.56H311.44V1124.14H312.82V1124.72H314.20V1125.30H340.20H341.95V1127.75H343.70V1130.20H358.40H359.83V1131.33H361.27V1132.47H362.70V1133.60H363.60V1137.50H388.10H389.10V1142.50H390.62V1142.53H392.13V1142.57H393.65V1142.60H395.17V1142.63H396.68V1142.67H398.20V1142.70H399.72V1142.73H401.23V1142.77H402.75V1142.80H404.27V1142.83H405.78V1142.87H407.30V1142.90H408.30V1149.50H425.50H425.90V1156.60H475.00" fill="none" stroke="#9e0015" stroke-width="1.6" stroke-linejoin="miter"/>
<path d="M125.20,983.70L125.80,989.60M125.80,989.60L127.80,997.30M127.80,997.30L129.70,1004.00M129.70,1004.00L131.60,1009.80M131.60,1009.80L133.50,1013.70M133.50,1013.70L135.90,1019.40M135.90,1019.40L137.30,1026.50M137.30,1026.50L140.80,1031.70M140.80,1031.70L143.40,1040.30M143.40,1040.30L146.00,1050.70M146.00,1050.70L149.40,1057.60M149.40,1057.60L153.70,1064.50M153.70,1064.50L156.30,1071.50M156.30,1071.50L160.70,1076.60M160.70,1076.60L165.00,1083.60M165.00,1083.60L168.50,1087.00M168.50,1087.00L175.40,1088.80M175.40,1088.80L184.00,1089.60M184.00,1089.60L189.20,1092.20M189.20,1092.20L194.40,1095.70M194.40,1095.70L201.30,1097.40M201.30,1097.40L210.00,1100.00M210.00,1100.00L215.40,1102.30M215.40,1102.30L220.60,1103.50M220.60,1103.50L232.70,1104.00M232.70,1104.00L236.20,1109.50M236.20,1109.50L246.50,1111.30M265.60,1111.30L269.00,1115.60M269.00,1115.60L279.40,1116.50M279.40,1116.50L288.10,1117.30M288.10,1117.30L291.50,1119.90M291.50,1119.90L295.20,1120.30M295.20,1120.30L307.30,1122.40M307.30,1122.40L314.20,1125.30M340.20,1125.30L343.70,1130.20M358.40,1130.20L362.70,1133.60M362.70,1133.60L363.60,1137.50M388.10,1137.50L389.10,1142.50M389.10,1142.50L407.30,1142.90M407.30,1142.90L408.30,1149.50M425.50,1149.50L425.90,1156.60" fill="none" stroke="#9e0015" stroke-width="1.6" stroke-linecap="round"/>
<path d="M376.00,1135.10v4.80M381.10,1135.10v4.80M387.10,1135.10v4.80M392.20,1140.17v4.80M397.20,1140.28v4.80M401.30,1140.37v4.80M405.30,1140.46v4.80M414.40,1147.10v4.80M422.50,1147.10v4.80M433.60,1154.20v4.80M444.70,1154.20v4.80M452.70,1154.20v4.80M473.90,1154.20v4.80M126.70,990.92v4.30M129.04,999.60v4.14M130.60,1004.59v4.35M131.57,1007.59v4.22M133.36,1011.07v4.69M134.15,1013.32v3.87M134.94,1014.77v4.72M136.85,1022.52v3.43M139.30,1026.98v4.98M141.14,1030.62v4.39M142.05,1034.14v3.39M143.65,1039.58v3.46M144.63,1043.32v3.77M145.30,1045.84v4.14M146.74,1049.82v4.78M148.33,1053.20v4.44M149.88,1056.13v4.47M151.35,1058.81v3.83M153.82,1062.31v5.03M156.01,1068.43v4.55M157.21,1070.68v3.75M158.37,1072.16v3.48M160.41,1074.25v4.03M162.61,1077.70v4.01M165.01,1081.22v4.78M165.63,1082.36v3.71M167.95,1084.39v4.15M170.39,1085.48v4.03M171.14,1085.48v4.42M173.21,1086.32v3.81M174.00,1086.47v3.92M176.41,1086.58v4.63M177.25,1087.08v3.77M178.06,1087.32v3.46M180.16,1087.41v3.66M181.82,1087.34v4.11M182.79,1087.19v4.59M183.66,1087.35v4.44M184.49,1087.81v4.07M185.51,1088.45v3.81M187.94,1089.21v4.71M189.12,1089.74v4.85M190.13,1090.82v4.02M192.34,1092.10v4.44M193.15,1092.35v5.02M194.17,1093.65v3.79M196.22,1094.19v3.91M197.39,1094.70v3.48M198.18,1094.46v4.34M199.25,1094.71v4.37M200.56,1095.16v4.12M202.97,1095.81v4.17M204.66,1096.00v4.82M205.62,1096.88v3.62M207.93,1097.01v4.73M209.01,1097.87v3.68M211.01,1097.96v4.94M211.99,1098.37v4.96M214.25,1099.62v4.37M215.66,1100.59v3.53M216.35,1100.03v4.98M217.41,1100.49v4.54M218.51,1100.65v4.74M220.24,1101.49v3.85M221.19,1101.24v4.57M221.93,1101.68v3.74M223.59,1101.23v4.79M225.36,1101.78v3.83M227.68,1101.94v3.70M228.33,1101.91v3.81M229.78,1102.15v3.46M230.73,1101.93v3.98M232.42,1102.20v3.58M233.71,1103.16v4.86M236.15,1107.19v4.46M238.06,1107.65v4.34M238.94,1108.27v3.42M239.59,1107.65v4.89M241.52,1107.94v4.98M242.18,1108.33v4.43M243.69,1108.52v4.59M244.91,1108.50v5.04M245.67,1109.02v4.28M247.66,1108.86v4.87M249.65,1109.03v4.54M251.74,1108.85v4.90M253.02,1109.04v4.51M255.31,1108.89v4.82M256.71,1108.96v4.69M258.94,1109.14v4.32M260.72,1109.30v4.00M262.42,1109.11v4.38M263.19,1109.08v4.43M265.66,1108.95v4.84M267.63,1111.86v4.01M269.62,1113.49v4.34M271.06,1113.39v4.77M271.83,1113.54v4.62M272.51,1113.72v4.37M274.02,1114.16v3.75M275.94,1114.10v4.20M277.71,1113.90v4.91M278.80,1114.76v3.38M279.98,1114.30v4.50M280.98,1114.82v3.64M283.28,1114.62v4.47M284.73,1114.56v4.86M285.95,1114.86v4.48M286.94,1115.15v4.08M289.06,1115.59v4.90M291.32,1117.76v4.01M293.02,1118.12v3.89M293.90,1118.06v4.19M296.07,1118.06v4.79M298.02,1118.31v4.96M299.15,1119.16v3.64M300.61,1119.33v3.82M301.63,1119.39v4.06M303.41,1119.63v4.19M304.62,1119.55v4.77M307.07,1120.30v4.12M307.82,1120.91v3.41M310.07,1121.85v3.43M312.01,1122.22v4.32M313.20,1122.54v4.69M313.86,1123.36v3.59M315.32,1123.60v3.40M317.49,1123.42v3.76M318.37,1123.58v3.44M320.16,1123.24v4.11M321.95,1123.07v4.46M324.07,1122.81v4.97M325.96,1123.45v3.69M327.47,1123.47v3.66M328.11,1123.22v4.15M330.06,1123.47v3.66M331.18,1123.33v3.94M333.10,1123.18v4.23M334.86,1122.98v4.63M336.22,1122.95v4.69M338.52,1123.55v3.51M340.88,1123.96v4.57M341.74,1125.39v4.12M343.52,1127.50v4.89M344.84,1128.04v4.32M347.10,1127.85v4.70M349.47,1128.13v4.14M351.30,1128.35v3.70M353.27,1127.83v4.73M355.08,1127.92v4.57M356.10,1127.76v4.87M358.54,1127.81v5.00M360.16,1129.25v4.69M361.38,1130.11v4.89" fill="none" stroke="#9e0015" stroke-width="1"/>
<path d="M124.50,978.20H476.00V1227.60H124.50Z" stroke="#000" stroke-width="2" fill="none"/>
<text x="200.4" y="1169.0" font-size="8.45" text-anchor="middle" font-weight="bold" fill="#000" stroke="#000" stroke-width="0.2">NCCN-IPI Risk Group</text>
<text x="282.0" y="1169.0" font-size="8.65" text-anchor="middle" font-weight="bold" fill="#000" stroke="#000" stroke-width="0.2">Events/Total</text>
<text x="341.8" y="1169.0" font-size="8.55" text-anchor="middle" font-weight="bold" fill="#000" stroke="#000" stroke-width="0.2">Time-Point</text>
<text x="444.8" y="1169.0" font-size="8.87" text-anchor="end" font-weight="bold" fill="#000" stroke="#000" stroke-width="0.2">KM Est (95% CI)</text>
<path d="M130.8,1177.35H146.0" stroke="#5fa440" stroke-width="1.7"/>
<text x="200.4" y="1179.6" font-size="8.75" text-anchor="middle" font-weight="normal" fill="#111" stroke="#111" stroke-width="0.2">Low (0-1)</text>
<text x="282.0" y="1179.6" font-size="8.9" text-anchor="middle" font-weight="normal" fill="#111" stroke="#111" stroke-width="0.2">28/277</text>
<text x="341.8" y="1179.6" font-size="8.25" text-anchor="middle" font-weight="normal" fill="#111" stroke="#111" stroke-width="0.2">5 Years</text>
<text x="444.8" y="1179.6" font-size="8.6" text-anchor="end" font-weight="normal" fill="#111" stroke="#111" stroke-width="0.2">86.0 (80.2-92.2%)</text>
<path d="M130.8,1187.95H146.0" stroke="#2f4d80" stroke-width="1.7"/>
<text x="200.4" y="1190.2" font-size="8.75" text-anchor="middle" font-weight="normal" fill="#111" stroke="#111" stroke-width="0.2">Low-Intermediate (2-3)</text>
<text x="282.0" y="1190.2" font-size="8.9" text-anchor="middle" font-weight="normal" fill="#111" stroke="#111" stroke-width="0.2">203/859</text>
<text x="341.8" y="1190.2" font-size="8.25" text-anchor="middle" font-weight="normal" fill="#111" stroke="#111" stroke-width="0.2">5 Years</text>
<text x="444.8" y="1190.2" font-size="8.6" text-anchor="end" font-weight="normal" fill="#111" stroke="#111" stroke-width="0.2">75.3 (72.1-78.6%)</text>
<path d="M130.8,1198.55H146.0" stroke="#da8200" stroke-width="1.7"/>
<text x="200.4" y="1200.8" font-size="8.75" text-anchor="middle" font-weight="normal" fill="#111" stroke="#111" stroke-width="0.2">High-Intermediate (4-5)</text>
<text x="282.0" y="1200.8" font-size="8.9" text-anchor="middle" font-weight="normal" fill="#111" stroke="#111" stroke-width="0.2">349/757</text>
<text x="341.8" y="1200.8" font-size="8.25" text-anchor="middle" font-weight="normal" fill="#111" stroke="#111" stroke-width="0.2">5 Years</text>
<text x="444.8" y="1200.8" font-size="8.6" text-anchor="end" font-weight="normal" fill="#111" stroke="#111" stroke-width="0.2">54.3 (50.7-58.2%)</text>
<path d="M130.8,1209.15H146.0" stroke="#9e0015" stroke-width="1.7"/>
<text x="200.4" y="1211.4" font-size="8.75" text-anchor="middle" font-weight="normal" fill="#111" stroke="#111" stroke-width="0.2">High (6-8)</text>
<text x="282.0" y="1211.4" font-size="8.9" text-anchor="middle" font-weight="normal" fill="#111" stroke="#111" stroke-width="0.2">128/212</text>
<text x="341.8" y="1211.4" font-size="8.25" text-anchor="middle" font-weight="normal" fill="#111" stroke="#111" stroke-width="0.2">5 Years</text>
<text x="444.8" y="1211.4" font-size="8.6" text-anchor="end" font-weight="normal" fill="#111" stroke="#111" stroke-width="0.2">42.8 (36.5-50.2%)</text>
<text x="153.2" y="1222.0" font-size="8.56" text-anchor="start" font-weight="normal" fill="#111" stroke="#111" stroke-width="0.2">Logrank P-value: &lt;.0001</text>
<text x="444.8" y="1222.0" font-size="8.46" text-anchor="end" font-weight="normal" fill="#111" stroke="#111" stroke-width="0.2">+ Censor</text>
<text x="109.6" y="1312.6" font-size="8.8" text-anchor="end" font-weight="normal" fill="#111" stroke="#111" stroke-width="0.2">Low (0-1)</text>
<text x="124.5" y="1312.6" font-size="9.0" text-anchor="middle" font-weight="normal" fill="#111" stroke="#111" stroke-width="0.2">277</text>
<text x="159.7" y="1312.6" font-size="9.0" text-anchor="middle" font-weight="normal" fill="#111" stroke="#111" stroke-width="0.2">221</text>
<text x="194.8" y="1312.6" font-size="9.0" text-anchor="middle" font-weight="normal" fill="#111" stroke="#111" stroke-width="0.2">149</text>
<text x="229.9" y="1312.6" font-size="9.0" text-anchor="middle" font-weight="normal" fill="#111" stroke="#111" stroke-width="0.2">79</text>
<text x="265.1" y="1312.6" font-size="9.0" text-anchor="middle" font-weight="normal" fill="#111" stroke="#111" stroke-width="0.2">44</text>
<text x="300.2" y="1312.6" font-size="9.0" text-anchor="middle" font-weight="normal" fill="#111" stroke="#111" stroke-width="0.2">36</text>
<text x="335.4" y="1312.6" font-size="9.0" text-anchor="middle" font-weight="normal" fill="#111" stroke="#111" stroke-width="0.2">31</text>
<text x="370.5" y="1312.6" font-size="9.0" text-anchor="middle" font-weight="normal" fill="#111" stroke="#111" stroke-width="0.2">22</text>
<text x="405.7" y="1312.6" font-size="9.0" text-anchor="middle" font-weight="normal" fill="#111" stroke="#111" stroke-width="0.2">10</text>
<text x="440.8" y="1312.6" font-size="9.0" text-anchor="middle" font-weight="normal" fill="#111" stroke="#111" stroke-width="0.2">3</text>
<text x="476.0" y="1312.6" font-size="9.0" text-anchor="middle" font-weight="normal" fill="#111" stroke="#111" stroke-width="0.2">0</text>
<text x="109.6" y="1328.1" font-size="8.8" text-anchor="end" font-weight="normal" fill="#111" stroke="#111" stroke-width="0.2">Low-Intermediate (2-3)</text>
<text x="124.5" y="1328.1" font-size="9.0" text-anchor="middle" font-weight="normal" fill="#111" stroke="#111" stroke-width="0.2">859</text>
<text x="159.7" y="1328.1" font-size="9.0" text-anchor="middle" font-weight="normal" fill="#111" stroke="#111" stroke-width="0.2">734</text>
<text x="194.8" y="1328.1" font-size="9.0" text-anchor="middle" font-weight="normal" fill="#111" stroke="#111" stroke-width="0.2">607</text>
<text x="229.9" y="1328.1" font-size="9.0" text-anchor="middle" font-weight="normal" fill="#111" stroke="#111" stroke-width="0.2">496</text>
<text x="265.1" y="1328.1" font-size="9.0" text-anchor="middle" font-weight="normal" fill="#111" stroke="#111" stroke-width="0.2">408</text>
<text x="300.2" y="1328.1" font-size="9.0" text-anchor="middle" font-weight="normal" fill="#111" stroke="#111" stroke-width="0.2">324</text>
<text x="335.4" y="1328.1" font-size="9.0" text-anchor="middle" font-weight="normal" fill="#111" stroke="#111" stroke-width="0.2">214</text>
<text x="370.5" y="1328.1" font-size="9.0" text-anchor="middle" font-weight="normal" fill="#111" stroke="#111" stroke-width="0.2">127</text>
<text x="405.7" y="1328.1" font-size="9.0" text-anchor="middle" font-weight="normal" fill="#111" stroke="#111" stroke-width="0.2">61</text>
<text x="440.8" y="1328.1" font-size="9.0" text-anchor="middle" font-weight="normal" fill="#111" stroke="#111" stroke-width="0.2">9</text>
<text x="476.0" y="1328.1" font-size="9.0" text-anchor="middle" font-weight="normal" fill="#111" stroke="#111" stroke-width="0.2">3</text>
<text x="109.6" y="1343.7" font-size="8.8" text-anchor="end" font-weight="normal" fill="#111" stroke="#111" stroke-width="0.2">High-Intermediate (4-5)</text>
<text x="124.5" y="1343.7" font-size="9.0" text-anchor="middle" font-weight="normal" fill="#111" stroke="#111" stroke-width="0.2">757</text>
<text x="159.7" y="1343.7" font-size="9.0" text-anchor="middle" font-weight="normal" fill="#111" stroke="#111" stroke-width="0.2">570</text>
<text x="194.8" y="1343.7" font-size="9.0" text-anchor="middle" font-weight="normal" fill="#111" stroke="#111" stroke-width="0.2">476</text>
<text x="229.9" y="1343.7" font-size="9.0" text-anchor="middle" font-weight="normal" fill="#111" stroke="#111" stroke-width="0.2">418</text>
<text x="265.1" y="1343.7" font-size="9.0" text-anchor="middle" font-weight="normal" fill="#111" stroke="#111" stroke-width="0.2">340</text>
<text x="300.2" y="1343.7" font-size="9.0" text-anchor="middle" font-weight="normal" fill="#111" stroke="#111" stroke-width="0.2">249</text>
<text x="335.4" y="1343.7" font-size="9.0" text-anchor="middle" font-weight="normal" fill="#111" stroke="#111" stroke-width="0.2">170</text>
<text x="370.5" y="1343.7" font-size="9.0" text-anchor="middle" font-weight="normal" fill="#111" stroke="#111" stroke-width="0.2">99</text>
<text x="405.7" y="1343.7" font-size="9.0" text-anchor="middle" font-weight="normal" fill="#111" stroke="#111" stroke-width="0.2">48</text>
<text x="440.8" y="1343.7" font-size="9.0" text-anchor="middle" font-weight="normal" fill="#111" stroke="#111" stroke-width="0.2">27</text>
<text x="476.0" y="1343.7" font-size="9.0" text-anchor="middle" font-weight="normal" fill="#111" stroke="#111" stroke-width="0.2">12</text>
<text x="109.6" y="1359.2" font-size="8.8" text-anchor="end" font-weight="normal" fill="#111" stroke="#111" stroke-width="0.2">High (6-8)</text>
<text x="124.5" y="1359.2" font-size="9.0" text-anchor="middle" font-weight="normal" fill="#111" stroke="#111" stroke-width="0.2">212</text>
<text x="159.7" y="1359.2" font-size="9.0" text-anchor="middle" font-weight="normal" fill="#111" stroke="#111" stroke-width="0.2">128</text>
<text x="194.8" y="1359.2" font-size="9.0" text-anchor="middle" font-weight="normal" fill="#111" stroke="#111" stroke-width="0.2">111</text>
<text x="229.9" y="1359.2" font-size="9.0" text-anchor="middle" font-weight="normal" fill="#111" stroke="#111" stroke-width="0.2">96</text>
<text x="265.1" y="1359.2" font-size="9.0" text-anchor="middle" font-weight="normal" fill="#111" stroke="#111" stroke-width="0.2">82</text>
<text x="300.2" y="1359.2" font-size="9.0" text-anchor="middle" font-weight="normal" fill="#111" stroke="#111" stroke-width="0.2">62</text>
<text x="335.4" y="1359.2" font-size="9.0" text-anchor="middle" font-weight="normal" fill="#111" stroke="#111" stroke-width="0.2">42</text>
<text x="370.5" y="1359.2" font-size="9.0" text-anchor="middle" font-weight="normal" fill="#111" stroke="#111" stroke-width="0.2">22</text>
<text x="405.7" y="1359.2" font-size="9.0" text-anchor="middle" font-weight="normal" fill="#111" stroke="#111" stroke-width="0.2">13</text>
<text x="440.8" y="1359.2" font-size="9.0" text-anchor="middle" font-weight="normal" fill="#111" stroke="#111" stroke-width="0.2">7</text>
<text x="476.0" y="1359.2" font-size="9.0" text-anchor="middle" font-weight="normal" fill="#111" stroke="#111" stroke-width="0.2">4</text>
</g>
<rect x="1" y="1" width="518" height="1374" fill="none" stroke="#000" stroke-width="2"/>
</svg>
</body></html>
